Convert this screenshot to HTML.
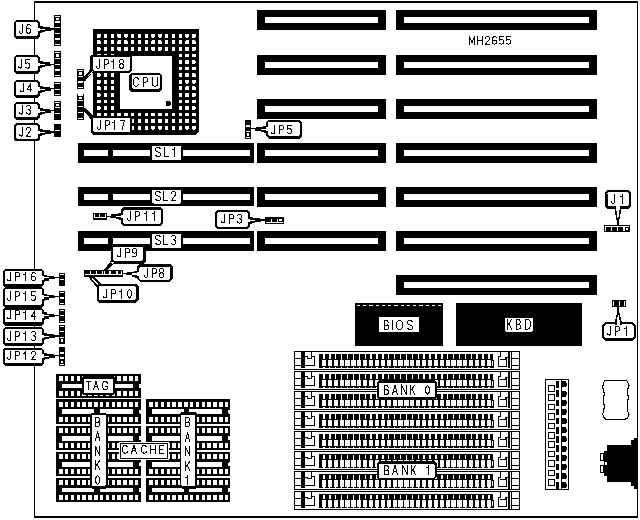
<!DOCTYPE html>
<html><head><meta charset="utf-8"><style>
html,body{margin:0;padding:0;background:#fff;width:640px;height:520px;overflow:hidden}
svg{display:block}
text{font-family:"Liberation Sans",sans-serif;fill:#000}
</style></head><body>
<svg width="640" height="520" viewBox="0 0 640 520" shape-rendering="crispEdges">
<rect width="640" height="520" fill="#fff"/>
<rect x="34" y="1" width="604" height="1.7" fill="#000"/>
<rect x="34" y="1" width="1.3" height="517" fill="#000"/>
<rect x="636.8" y="1" width="1.2" height="517" fill="#000"/>
<rect x="34" y="516" width="604" height="1.8" fill="#000"/>
<rect x="396" y="10" width="201" height="20" fill="#000"/>
<rect x="404" y="17" width="185" height="6" fill="#fff"/>
<rect x="257" y="10" width="129" height="20" fill="#000"/>
<rect x="265" y="17" width="113" height="6" fill="#fff"/>
<rect x="396" y="55" width="201" height="20" fill="#000"/>
<rect x="404" y="62" width="185" height="6" fill="#fff"/>
<rect x="257" y="55" width="129" height="20" fill="#000"/>
<rect x="265" y="62" width="113" height="6" fill="#fff"/>
<rect x="396" y="99" width="201" height="20" fill="#000"/>
<rect x="404" y="106" width="185" height="6" fill="#fff"/>
<rect x="257" y="99" width="129" height="20" fill="#000"/>
<rect x="265" y="106" width="113" height="6" fill="#fff"/>
<rect x="396" y="143" width="201" height="20" fill="#000"/>
<rect x="404" y="150" width="185" height="6" fill="#fff"/>
<rect x="257" y="143" width="129" height="20" fill="#000"/>
<rect x="265" y="150" width="113" height="6" fill="#fff"/>
<rect x="396" y="186.5" width="201" height="20" fill="#000"/>
<rect x="404" y="193.5" width="185" height="6" fill="#fff"/>
<rect x="257" y="186.5" width="129" height="20" fill="#000"/>
<rect x="265" y="193.5" width="113" height="6" fill="#fff"/>
<rect x="396" y="231" width="201" height="20" fill="#000"/>
<rect x="404" y="238" width="185" height="6" fill="#fff"/>
<rect x="257" y="231" width="129" height="20" fill="#000"/>
<rect x="265" y="238" width="113" height="6" fill="#fff"/>
<rect x="396" y="275" width="201" height="20" fill="#000"/>
<rect x="404" y="282" width="185" height="6" fill="#fff"/>
<rect x="78" y="143" width="176" height="19.5" fill="#000"/>
<rect x="84" y="150" width="24" height="6" fill="#fff"/>
<rect x="113" y="150" width="37" height="6" fill="#fff"/>
<rect x="183" y="150" width="67" height="6" fill="#fff"/>
<rect x="152" y="146" width="29" height="14" fill="#fff" rx="1.5"/>
<path d="M 160.30,148.85 Q 159.70,147.50 158.00,147.50 Q 155.50,147.50 155.50,149.84 Q 155.50,151.46 158.00,152.00 Q 160.50,152.54 160.50,154.34 Q 160.50,156.50 158.00,156.50 Q 156.10,156.50 155.50,155.06 M 164.50,147.50 V 156.50 H 168.50 M 174.90,156.50 V 147.50 Q 173.94,149.48 172.50,149.84" fill="none" stroke="#000" stroke-width="1" stroke-linejoin="miter" stroke-linecap="square"/>
<rect x="78" y="186.5" width="176" height="19.5" fill="#000"/>
<rect x="84" y="193.5" width="24" height="6" fill="#fff"/>
<rect x="113" y="193.5" width="37" height="6" fill="#fff"/>
<rect x="183" y="193.5" width="67" height="6" fill="#fff"/>
<rect x="152" y="189.5" width="29" height="14" fill="#fff" rx="1.5"/>
<path d="M 160.30,192.85 Q 159.70,191.50 158.00,191.50 Q 155.50,191.50 155.50,193.84 Q 155.50,195.46 158.00,196.00 Q 160.50,196.54 160.50,198.34 Q 160.50,200.50 158.00,200.50 Q 156.10,200.50 155.50,199.06 M 163.50,191.50 V 200.50 H 167.50 M 171.50,193.48 Q 171.82,191.50 173.50,191.50 Q 175.50,191.50 175.50,193.84 Q 175.50,195.28 173.90,196.90 L 171.50,200.50 H 175.50" fill="none" stroke="#000" stroke-width="1" stroke-linejoin="miter" stroke-linecap="square"/>
<rect x="78" y="231" width="176" height="19.5" fill="#000"/>
<rect x="84" y="238" width="24" height="6" fill="#fff"/>
<rect x="113" y="238" width="37" height="6" fill="#fff"/>
<rect x="183" y="238" width="67" height="6" fill="#fff"/>
<rect x="152" y="234" width="29" height="14" fill="#fff" rx="1.5"/>
<path d="M 160.30,236.85 Q 159.70,235.50 158.00,235.50 Q 155.50,235.50 155.50,237.84 Q 155.50,239.46 158.00,240.00 Q 160.50,240.54 160.50,242.34 Q 160.50,244.50 158.00,244.50 Q 156.10,244.50 155.50,243.06 M 163.50,235.50 V 244.50 H 167.50 M 171.50,236.58 Q 172.14,235.50 173.50,235.50 Q 175.50,235.50 175.50,237.75 Q 175.50,239.82 173.26,239.82 Q 175.50,239.82 175.50,242.16 Q 175.50,244.50 173.50,244.50 Q 172.14,244.50 171.50,243.24" fill="none" stroke="#000" stroke-width="1" stroke-linejoin="miter" stroke-linecap="square"/>
<polygon points="93,29 199,29 199,131.8 196,134.8 93,134.8" fill="#000"/>
<rect x="97.1" y="33.8" width="3.4" height="3.8" fill="#fff" rx="0.6"/>
<rect x="97.1" y="40.37" width="3.4" height="3.8" fill="#fff" rx="0.6"/>
<rect x="97.1" y="46.94" width="3.4" height="3.8" fill="#fff" rx="0.6"/>
<rect x="97.1" y="53.51" width="3.4" height="3.8" fill="#fff" rx="0.6"/>
<rect x="97.1" y="60.08" width="3.4" height="3.8" fill="#fff" rx="0.6"/>
<rect x="97.1" y="66.65" width="3.4" height="3.8" fill="#fff" rx="0.6"/>
<rect x="97.1" y="73.22" width="3.4" height="3.8" fill="#fff" rx="0.6"/>
<rect x="97.1" y="79.79" width="3.4" height="3.8" fill="#fff" rx="0.6"/>
<rect x="97.1" y="86.36" width="3.4" height="3.8" fill="#fff" rx="0.6"/>
<rect x="97.1" y="92.93" width="3.4" height="3.8" fill="#fff" rx="0.6"/>
<rect x="97.1" y="99.5" width="3.4" height="3.8" fill="#fff" rx="0.6"/>
<rect x="97.1" y="106.07" width="3.4" height="3.8" fill="#fff" rx="0.6"/>
<rect x="97.1" y="112.64" width="3.4" height="3.8" fill="#fff" rx="0.6"/>
<rect x="97.1" y="119.21" width="3.4" height="3.8" fill="#fff" rx="0.6"/>
<rect x="97.1" y="125.78" width="3.4" height="3.8" fill="#fff" rx="0.6"/>
<rect x="103.89" y="33.8" width="3.4" height="3.8" fill="#fff" rx="0.6"/>
<rect x="103.89" y="40.37" width="3.4" height="3.8" fill="#fff" rx="0.6"/>
<rect x="103.89" y="46.94" width="3.4" height="3.8" fill="#fff" rx="0.6"/>
<rect x="103.89" y="53.51" width="3.4" height="3.8" fill="#fff" rx="0.6"/>
<rect x="103.89" y="60.08" width="3.4" height="3.8" fill="#fff" rx="0.6"/>
<rect x="103.89" y="66.65" width="3.4" height="3.8" fill="#fff" rx="0.6"/>
<rect x="103.89" y="73.22" width="3.4" height="3.8" fill="#fff" rx="0.6"/>
<rect x="103.89" y="79.79" width="3.4" height="3.8" fill="#fff" rx="0.6"/>
<rect x="103.89" y="86.36" width="3.4" height="3.8" fill="#fff" rx="0.6"/>
<rect x="103.89" y="92.93" width="3.4" height="3.8" fill="#fff" rx="0.6"/>
<rect x="103.89" y="99.5" width="3.4" height="3.8" fill="#fff" rx="0.6"/>
<rect x="103.89" y="106.07" width="3.4" height="3.8" fill="#fff" rx="0.6"/>
<rect x="103.89" y="112.64" width="3.4" height="3.8" fill="#fff" rx="0.6"/>
<rect x="103.89" y="119.21" width="3.4" height="3.8" fill="#fff" rx="0.6"/>
<rect x="103.89" y="125.78" width="3.4" height="3.8" fill="#fff" rx="0.6"/>
<rect x="110.68" y="33.8" width="3.4" height="3.8" fill="#fff" rx="0.6"/>
<rect x="110.68" y="40.37" width="3.4" height="3.8" fill="#fff" rx="0.6"/>
<rect x="110.68" y="46.94" width="3.4" height="3.8" fill="#fff" rx="0.6"/>
<rect x="110.68" y="53.51" width="3.4" height="3.8" fill="#fff" rx="0.6"/>
<rect x="110.68" y="60.08" width="3.4" height="3.8" fill="#fff" rx="0.6"/>
<rect x="110.68" y="66.65" width="3.4" height="3.8" fill="#fff" rx="0.6"/>
<rect x="110.68" y="73.22" width="3.4" height="3.8" fill="#fff" rx="0.6"/>
<rect x="110.68" y="79.79" width="3.4" height="3.8" fill="#fff" rx="0.6"/>
<rect x="110.68" y="86.36" width="3.4" height="3.8" fill="#fff" rx="0.6"/>
<rect x="110.68" y="92.93" width="3.4" height="3.8" fill="#fff" rx="0.6"/>
<rect x="110.68" y="99.5" width="3.4" height="3.8" fill="#fff" rx="0.6"/>
<rect x="110.68" y="106.07" width="3.4" height="3.8" fill="#fff" rx="0.6"/>
<rect x="110.68" y="112.64" width="3.4" height="3.8" fill="#fff" rx="0.6"/>
<rect x="110.68" y="119.21" width="3.4" height="3.8" fill="#fff" rx="0.6"/>
<rect x="110.68" y="125.78" width="3.4" height="3.8" fill="#fff" rx="0.6"/>
<rect x="117.47" y="33.8" width="3.4" height="3.8" fill="#fff" rx="0.6"/>
<rect x="117.47" y="40.37" width="3.4" height="3.8" fill="#fff" rx="0.6"/>
<rect x="117.47" y="46.94" width="3.4" height="3.8" fill="#fff" rx="0.6"/>
<rect x="117.47" y="112.64" width="3.4" height="3.8" fill="#fff" rx="0.6"/>
<rect x="117.47" y="119.21" width="3.4" height="3.8" fill="#fff" rx="0.6"/>
<rect x="117.47" y="125.78" width="3.4" height="3.8" fill="#fff" rx="0.6"/>
<rect x="124.26" y="33.8" width="3.4" height="3.8" fill="#fff" rx="0.6"/>
<rect x="124.26" y="40.37" width="3.4" height="3.8" fill="#fff" rx="0.6"/>
<rect x="124.26" y="46.94" width="3.4" height="3.8" fill="#fff" rx="0.6"/>
<rect x="124.26" y="112.64" width="3.4" height="3.8" fill="#fff" rx="0.6"/>
<rect x="124.26" y="119.21" width="3.4" height="3.8" fill="#fff" rx="0.6"/>
<rect x="124.26" y="125.78" width="3.4" height="3.8" fill="#fff" rx="0.6"/>
<rect x="131.05" y="33.8" width="3.4" height="3.8" fill="#fff" rx="0.6"/>
<rect x="131.05" y="40.37" width="3.4" height="3.8" fill="#fff" rx="0.6"/>
<rect x="131.05" y="46.94" width="3.4" height="3.8" fill="#fff" rx="0.6"/>
<rect x="131.05" y="112.64" width="3.4" height="3.8" fill="#fff" rx="0.6"/>
<rect x="131.05" y="119.21" width="3.4" height="3.8" fill="#fff" rx="0.6"/>
<rect x="131.05" y="125.78" width="3.4" height="3.8" fill="#fff" rx="0.6"/>
<rect x="137.84" y="33.8" width="3.4" height="3.8" fill="#fff" rx="0.6"/>
<rect x="137.84" y="40.37" width="3.4" height="3.8" fill="#fff" rx="0.6"/>
<rect x="137.84" y="46.94" width="3.4" height="3.8" fill="#fff" rx="0.6"/>
<rect x="137.84" y="112.64" width="3.4" height="3.8" fill="#fff" rx="0.6"/>
<rect x="137.84" y="119.21" width="3.4" height="3.8" fill="#fff" rx="0.6"/>
<rect x="137.84" y="125.78" width="3.4" height="3.8" fill="#fff" rx="0.6"/>
<rect x="144.63" y="33.8" width="3.4" height="3.8" fill="#fff" rx="0.6"/>
<rect x="144.63" y="40.37" width="3.4" height="3.8" fill="#fff" rx="0.6"/>
<rect x="144.63" y="46.94" width="3.4" height="3.8" fill="#fff" rx="0.6"/>
<rect x="144.63" y="112.64" width="3.4" height="3.8" fill="#fff" rx="0.6"/>
<rect x="144.63" y="119.21" width="3.4" height="3.8" fill="#fff" rx="0.6"/>
<rect x="144.63" y="125.78" width="3.4" height="3.8" fill="#fff" rx="0.6"/>
<rect x="151.42" y="33.8" width="3.4" height="3.8" fill="#fff" rx="0.6"/>
<rect x="151.42" y="40.37" width="3.4" height="3.8" fill="#fff" rx="0.6"/>
<rect x="151.42" y="46.94" width="3.4" height="3.8" fill="#fff" rx="0.6"/>
<rect x="151.42" y="112.64" width="3.4" height="3.8" fill="#fff" rx="0.6"/>
<rect x="151.42" y="119.21" width="3.4" height="3.8" fill="#fff" rx="0.6"/>
<rect x="151.42" y="125.78" width="3.4" height="3.8" fill="#fff" rx="0.6"/>
<rect x="158.21" y="33.8" width="3.4" height="3.8" fill="#fff" rx="0.6"/>
<rect x="158.21" y="40.37" width="3.4" height="3.8" fill="#fff" rx="0.6"/>
<rect x="158.21" y="46.94" width="3.4" height="3.8" fill="#fff" rx="0.6"/>
<rect x="158.21" y="112.64" width="3.4" height="3.8" fill="#fff" rx="0.6"/>
<rect x="158.21" y="119.21" width="3.4" height="3.8" fill="#fff" rx="0.6"/>
<rect x="158.21" y="125.78" width="3.4" height="3.8" fill="#fff" rx="0.6"/>
<rect x="165" y="33.8" width="3.4" height="3.8" fill="#fff" rx="0.6"/>
<rect x="165" y="40.37" width="3.4" height="3.8" fill="#fff" rx="0.6"/>
<rect x="165" y="46.94" width="3.4" height="3.8" fill="#fff" rx="0.6"/>
<rect x="165" y="112.64" width="3.4" height="3.8" fill="#fff" rx="0.6"/>
<rect x="165" y="119.21" width="3.4" height="3.8" fill="#fff" rx="0.6"/>
<rect x="165" y="125.78" width="3.4" height="3.8" fill="#fff" rx="0.6"/>
<rect x="171.79" y="33.8" width="3.4" height="3.8" fill="#fff" rx="0.6"/>
<rect x="171.79" y="40.37" width="3.4" height="3.8" fill="#fff" rx="0.6"/>
<rect x="171.79" y="46.94" width="3.4" height="3.8" fill="#fff" rx="0.6"/>
<rect x="171.79" y="112.64" width="3.4" height="3.8" fill="#fff" rx="0.6"/>
<rect x="171.79" y="119.21" width="3.4" height="3.8" fill="#fff" rx="0.6"/>
<rect x="171.79" y="125.78" width="3.4" height="3.8" fill="#fff" rx="0.6"/>
<rect x="178.58" y="33.8" width="3.4" height="3.8" fill="#fff" rx="0.6"/>
<rect x="178.58" y="40.37" width="3.4" height="3.8" fill="#fff" rx="0.6"/>
<rect x="178.58" y="46.94" width="3.4" height="3.8" fill="#fff" rx="0.6"/>
<rect x="178.58" y="53.51" width="3.4" height="3.8" fill="#fff" rx="0.6"/>
<rect x="178.58" y="60.08" width="3.4" height="3.8" fill="#fff" rx="0.6"/>
<rect x="178.58" y="66.65" width="3.4" height="3.8" fill="#fff" rx="0.6"/>
<rect x="178.58" y="73.22" width="3.4" height="3.8" fill="#fff" rx="0.6"/>
<rect x="178.58" y="79.79" width="3.4" height="3.8" fill="#fff" rx="0.6"/>
<rect x="178.58" y="86.36" width="3.4" height="3.8" fill="#fff" rx="0.6"/>
<rect x="178.58" y="92.93" width="3.4" height="3.8" fill="#fff" rx="0.6"/>
<rect x="178.58" y="99.5" width="3.4" height="3.8" fill="#fff" rx="0.6"/>
<rect x="178.58" y="106.07" width="3.4" height="3.8" fill="#fff" rx="0.6"/>
<rect x="178.58" y="112.64" width="3.4" height="3.8" fill="#fff" rx="0.6"/>
<rect x="178.58" y="119.21" width="3.4" height="3.8" fill="#fff" rx="0.6"/>
<rect x="178.58" y="125.78" width="3.4" height="3.8" fill="#fff" rx="0.6"/>
<rect x="185.37" y="33.8" width="3.4" height="3.8" fill="#fff" rx="0.6"/>
<rect x="185.37" y="40.37" width="3.4" height="3.8" fill="#fff" rx="0.6"/>
<rect x="185.37" y="46.94" width="3.4" height="3.8" fill="#fff" rx="0.6"/>
<rect x="185.37" y="53.51" width="3.4" height="3.8" fill="#fff" rx="0.6"/>
<rect x="185.37" y="60.08" width="3.4" height="3.8" fill="#fff" rx="0.6"/>
<rect x="185.37" y="66.65" width="3.4" height="3.8" fill="#fff" rx="0.6"/>
<rect x="185.37" y="73.22" width="3.4" height="3.8" fill="#fff" rx="0.6"/>
<rect x="185.37" y="79.79" width="3.4" height="3.8" fill="#fff" rx="0.6"/>
<rect x="185.37" y="86.36" width="3.4" height="3.8" fill="#fff" rx="0.6"/>
<rect x="185.37" y="92.93" width="3.4" height="3.8" fill="#fff" rx="0.6"/>
<rect x="185.37" y="99.5" width="3.4" height="3.8" fill="#fff" rx="0.6"/>
<rect x="185.37" y="106.07" width="3.4" height="3.8" fill="#fff" rx="0.6"/>
<rect x="185.37" y="112.64" width="3.4" height="3.8" fill="#fff" rx="0.6"/>
<rect x="185.37" y="119.21" width="3.4" height="3.8" fill="#fff" rx="0.6"/>
<rect x="185.37" y="125.78" width="3.4" height="3.8" fill="#fff" rx="0.6"/>
<rect x="192.16" y="33.8" width="3.4" height="3.8" fill="#fff" rx="0.6"/>
<rect x="192.16" y="40.37" width="3.4" height="3.8" fill="#fff" rx="0.6"/>
<rect x="192.16" y="46.94" width="3.4" height="3.8" fill="#fff" rx="0.6"/>
<rect x="192.16" y="53.51" width="3.4" height="3.8" fill="#fff" rx="0.6"/>
<rect x="192.16" y="60.08" width="3.4" height="3.8" fill="#fff" rx="0.6"/>
<rect x="192.16" y="66.65" width="3.4" height="3.8" fill="#fff" rx="0.6"/>
<rect x="192.16" y="73.22" width="3.4" height="3.8" fill="#fff" rx="0.6"/>
<rect x="192.16" y="79.79" width="3.4" height="3.8" fill="#fff" rx="0.6"/>
<rect x="192.16" y="86.36" width="3.4" height="3.8" fill="#fff" rx="0.6"/>
<rect x="192.16" y="92.93" width="3.4" height="3.8" fill="#fff" rx="0.6"/>
<rect x="192.16" y="99.5" width="3.4" height="3.8" fill="#fff" rx="0.6"/>
<rect x="192.16" y="106.07" width="3.4" height="3.8" fill="#fff" rx="0.6"/>
<rect x="192.16" y="112.64" width="3.4" height="3.8" fill="#fff" rx="0.6"/>
<rect x="192.16" y="119.21" width="3.4" height="3.8" fill="#fff" rx="0.6"/>
<rect x="192.16" y="125.78" width="3.4" height="3.8" fill="#fff" rx="0.6"/>
<rect x="119.6" y="55.9" width="52.5" height="53" fill="#fff"/>
<polygon points="167.1,100.6 169.5,100.6 171.1,102.2 171.1,104.6 169.5,106.2 167.1,106.2 165.5,104.6 165.5,102.2" fill="#000"/>
<polygon points="131.5,72.8 159.6,72.8 162.1,75.3 162.1,89.4 159.6,91.9 131.5,91.9 129,89.4 129,75.3" fill="#000"/>
<polygon points="133,75 159,75 160.2,76.2 160.2,87.8 159,89 133,89 131.8,87.8 131.8,76.2" fill="#fff"/>
<path d="M 138.50,79.07 Q 137.90,77.50 136.10,77.50 Q 133.50,77.50 133.50,81.85 Q 133.50,86.20 136.10,86.20 Q 137.90,86.20 138.50,84.63 M 143.50,86.20 V 77.50 H 145.90 Q 147.50,77.50 147.50,79.76 Q 147.50,82.02 145.90,82.02 H 143.50 M 152.50,77.50 V 83.94 Q 152.50,86.20 155.00,86.20 Q 157.50,86.20 157.50,83.94 V 77.50" fill="none" stroke="#000" stroke-width="1" stroke-linejoin="miter" stroke-linecap="square"/>
<polygon points="92.3,54.5 130.1,54.5 132.1,56.5 132.1,70.7 130.1,72.7 92.3,72.7 90.3,70.7 90.3,56.5" fill="#000"/>
<polygon points="93.9,56.8 129.1,56.8 129.8,57.5 129.8,70 129.1,70.7 93.9,70.7 93.2,70 93.2,57.5" fill="#fff"/>
<path d="M 99.70,59.50 V 66.10 Q 99.70,68.30 98.10,68.30 Q 96.50,68.30 96.50,66.54 M 104.50,68.30 V 59.50 H 106.90 Q 108.50,59.50 108.50,61.79 Q 108.50,64.08 106.90,64.08 H 104.50 M 113.90,68.30 V 59.50 Q 112.94,61.44 111.50,61.79 M 121.50,63.72 Q 119.66,63.72 119.66,61.61 Q 119.66,59.50 121.50,59.50 Q 123.34,59.50 123.34,61.61 Q 123.34,63.72 121.50,63.72 Q 119.50,63.72 119.50,66.01 Q 119.50,68.30 121.50,68.30 Q 123.50,68.30 123.50,66.01 Q 123.50,63.72 121.50,63.72" fill="none" stroke="#000" stroke-width="1" stroke-linejoin="miter" stroke-linecap="square"/>
<polygon points="93.1,116.2 129.7,116.2 131.7,118.2 131.7,132.65 129.7,134.65 93.1,134.65 91.1,132.65 91.1,118.2" fill="#000"/>
<polygon points="93.9,118.1 129.4,118.1 130.1,118.8 130.1,131.2 129.4,131.9 93.9,131.9 93.2,131.2 93.2,118.8" fill="#fff"/>
<path d="M 100.70,120.50 V 127.10 Q 100.70,129.30 99.10,129.30 Q 97.50,129.30 97.50,127.54 M 105.50,129.30 V 120.50 H 107.90 Q 109.50,120.50 109.50,122.79 Q 109.50,125.08 107.90,125.08 H 105.50 M 114.90,129.30 V 120.50 Q 113.94,122.44 112.50,122.79 M 120.50,120.50 H 124.50 L 122.10,129.30" fill="none" stroke="#000" stroke-width="1" stroke-linejoin="miter" stroke-linecap="square"/>
<rect x="34" y="20" width="1.3" height="18.9" fill="#fff"/>
<polygon points="16.35,20 37.8,20 40,22.2 40,36.7 37.8,38.9 16.35,38.9 14.15,36.7 14.15,22.2" fill="#000"/>
<polygon points="16.85,21.9 36.7,21.9 37.6,22.8 37.6,35.4 36.7,36.3 16.85,36.3 15.95,35.4 15.95,22.8" fill="#fff"/>
<path d="M 22.70,24.50 V 31.10 Q 22.70,33.30 21.10,33.30 Q 19.50,33.30 19.50,31.54 M 30.18,25.38 Q 29.70,24.50 28.58,24.50 Q 26.50,24.50 26.50,28.90 V 30.66 Q 26.50,33.30 28.50,33.30 Q 30.50,33.30 30.50,30.84 Q 30.50,28.55 28.50,28.55 Q 26.50,28.55 26.50,30.66" fill="none" stroke="#000" stroke-width="1" stroke-linejoin="miter" stroke-linecap="square"/>
<polygon points="37.4,27.6 40,27.6 40,25.9 43,25.9 43,27 50,27 50,28.2 54.1,28.2 54.1,29.6 50.9,29.6 50.9,30.7 45.1,30.7 45.1,32 41.8,32 41.8,33 40,33 40,31 37.4,31" fill="#000"/>
<polygon points="37.4,27.6 40,27.6 40,28.7 45.1,28.7 45.1,29.8 40,29.8 40,31 37.4,31" fill="#fff"/>
<rect x="54.1" y="14.9" width="7" height="31.2" fill="#000"/>
<rect x="55.2" y="15.95" width="4.8" height="1.3" fill="#fff"/>
<rect x="55.2" y="21.35" width="4.8" height="1.3" fill="#fff"/>
<rect x="55.2" y="26.75" width="4.8" height="1.3" fill="#fff"/>
<rect x="55.2" y="32.75" width="4.8" height="1.3" fill="#fff"/>
<rect x="55.2" y="38.25" width="4.8" height="1.3" fill="#fff"/>
<rect x="55.2" y="43.75" width="4.8" height="1.3" fill="#fff"/>
<rect x="56" y="18.2" width="3" height="1.6" fill="#fff"/>
<rect x="34" y="55.2" width="1.3" height="18.5" fill="#fff"/>
<polygon points="16.35,55.2 37.8,55.2 40,57.4 40,71.5 37.8,73.7 16.35,73.7 14.15,71.5 14.15,57.4" fill="#000"/>
<polygon points="16.85,57.1 36.7,57.1 37.6,58 37.6,70.2 36.7,71.1 16.85,71.1 15.95,70.2 15.95,58" fill="#fff"/>
<path d="M 21.70,59.50 V 66.02 Q 21.70,68.20 20.10,68.20 Q 18.50,68.20 18.50,66.46 M 29.34,59.50 H 25.98 L 25.66,63.50 Q 26.30,62.98 27.50,62.98 Q 29.50,62.98 29.50,65.59 Q 29.50,68.20 27.50,68.20 Q 26.14,68.20 25.50,67.16" fill="none" stroke="#000" stroke-width="1" stroke-linejoin="miter" stroke-linecap="square"/>
<polygon points="37.4,62.9 40,62.9 40,61.2 43,61.2 43,62.3 50,62.3 50,63.5 54.1,63.5 54.1,64.9 50.9,64.9 50.9,66 45.1,66 45.1,67.3 41.8,67.3 41.8,68.3 40,68.3 40,66.3 37.4,66.3" fill="#000"/>
<polygon points="37.4,62.9 40,62.9 40,64 45.1,64 45.1,65.1 40,65.1 40,66.3 37.4,66.3" fill="#fff"/>
<rect x="54.1" y="50.9" width="7" height="25.75" fill="#000"/>
<rect x="55.2" y="51.75" width="4.8" height="1.3" fill="#fff"/>
<rect x="55.2" y="57.65" width="4.8" height="1.3" fill="#fff"/>
<rect x="55.2" y="63.75" width="4.8" height="1.3" fill="#fff"/>
<rect x="55.2" y="69.35" width="4.8" height="1.3" fill="#fff"/>
<rect x="55.2" y="74.85" width="4.8" height="1.3" fill="#fff"/>
<rect x="56" y="54.25" width="3" height="2.85" fill="#fff"/>
<rect x="34" y="80.2" width="1.3" height="17.5" fill="#fff"/>
<polygon points="16.35,80.2 37.8,80.2 40,82.4 40,95.5 37.8,97.7 16.35,97.7 14.15,95.5 14.15,82.4" fill="#000"/>
<polygon points="16.85,82.1 36.7,82.1 37.6,83 37.6,94.2 36.7,95.1 16.85,95.1 15.95,94.2 15.95,83" fill="#fff"/>
<path d="M 23.70,83.50 V 89.65 Q 23.70,91.70 22.10,91.70 Q 20.50,91.70 20.50,90.06 M 30.70,91.70 V 83.50 L 27.50,89.24 H 31.90" fill="none" stroke="#000" stroke-width="1" stroke-linejoin="miter" stroke-linecap="square"/>
<polygon points="37.4,87.4 40,87.4 40,85.7 43,85.7 43,86.8 50,86.8 50,88 54.1,88 54.1,89.4 50.9,89.4 50.9,90.5 45.1,90.5 45.1,91.8 41.8,91.8 41.8,92.8 40,92.8 40,90.8 37.4,90.8" fill="#000"/>
<polygon points="37.4,87.4 40,87.4 40,88.5 45.1,88.5 45.1,89.6 40,89.6 40,90.8 37.4,90.8" fill="#fff"/>
<rect x="54.1" y="82.4" width="7" height="13.2" fill="#000"/>
<rect x="55.2" y="82.95" width="4.8" height="1.3" fill="#fff"/>
<rect x="55.2" y="88.75" width="4.8" height="1.3" fill="#fff"/>
<rect x="55.2" y="93.85" width="4.8" height="1.3" fill="#fff"/>
<rect x="34" y="102.15" width="1.3" height="17.55" fill="#fff"/>
<polygon points="16.35,102.15 37.8,102.15 40,104.35 40,117.5 37.8,119.7 16.35,119.7 14.15,117.5 14.15,104.35" fill="#000"/>
<polygon points="16.85,104.05 36.7,104.05 37.6,104.95 37.6,116.2 36.7,117.1 16.85,117.1 15.95,116.2 15.95,104.95" fill="#fff"/>
<path d="M 22.70,105.50 V 112.02 Q 22.70,114.20 21.10,114.20 Q 19.50,114.20 19.50,112.46 M 26.50,106.54 Q 27.14,105.50 28.50,105.50 Q 30.50,105.50 30.50,107.67 Q 30.50,109.68 28.26,109.68 Q 30.50,109.68 30.50,111.94 Q 30.50,114.20 28.50,114.20 Q 27.14,114.20 26.50,112.98" fill="none" stroke="#000" stroke-width="1" stroke-linejoin="miter" stroke-linecap="square"/>
<polygon points="37.4,109.4 40,109.4 40,107.7 43,107.7 43,108.8 50,108.8 50,110 54.1,110 54.1,111.4 50.9,111.4 50.9,112.5 45.1,112.5 45.1,113.8 41.8,113.8 41.8,114.8 40,114.8 40,112.8 37.4,112.8" fill="#000"/>
<polygon points="37.4,109.4 40,109.4 40,110.5 45.1,110.5 45.1,111.6 40,111.6 40,112.8 37.4,112.8" fill="#fff"/>
<rect x="54.1" y="101.1" width="7" height="18.7" fill="#000"/>
<rect x="55.2" y="101.75" width="4.8" height="1.3" fill="#fff"/>
<rect x="55.2" y="106.85" width="4.8" height="1.3" fill="#fff"/>
<rect x="55.2" y="112.75" width="4.8" height="1.3" fill="#fff"/>
<rect x="56" y="103.8" width="3" height="2.2" fill="#fff"/>
<rect x="34" y="123.4" width="1.3" height="18" fill="#fff"/>
<polygon points="16.35,123.4 37.8,123.4 40,125.6 40,139.2 37.8,141.4 16.35,141.4 14.15,139.2 14.15,125.6" fill="#000"/>
<polygon points="16.85,125.3 36.7,125.3 37.6,126.2 37.6,137.9 36.7,138.8 16.85,138.8 15.95,137.9 15.95,126.2" fill="#fff"/>
<path d="M 22.70,127.50 V 134.03 Q 22.70,136.20 21.10,136.20 Q 19.50,136.20 19.50,134.46 M 26.50,129.41 Q 26.82,127.50 28.50,127.50 Q 30.50,127.50 30.50,129.76 Q 30.50,131.15 28.90,132.72 L 26.50,136.20 H 30.50" fill="none" stroke="#000" stroke-width="1" stroke-linejoin="miter" stroke-linecap="square"/>
<polygon points="37.4,130.7 40,130.7 40,129 43,129 43,130.1 50,130.1 50,131.3 54.1,131.3 54.1,132.7 50.9,132.7 50.9,133.8 45.1,133.8 45.1,135.1 41.8,135.1 41.8,136.1 40,136.1 40,134.1 37.4,134.1" fill="#000"/>
<polygon points="37.4,130.7 40,130.7 40,131.8 45.1,131.8 45.1,132.9 40,132.9 40,134.1 37.4,134.1" fill="#fff"/>
<rect x="54.1" y="124" width="7" height="12.8" fill="#000"/>
<rect x="55.2" y="129.95" width="4.8" height="1.3" fill="#fff"/>
<rect x="77" y="69" width="6.9" height="19.8" fill="#000"/>
<rect x="78.1" y="69.65" width="4.7" height="1.3" fill="#fff"/>
<rect x="78.1" y="75.85" width="4.7" height="1.3" fill="#fff"/>
<rect x="78.1" y="81.25" width="4.7" height="1.3" fill="#fff"/>
<rect x="78.1" y="86.85" width="4.7" height="1.3" fill="#fff"/>
<rect x="78.9" y="72.2" width="2.9" height="2.4" fill="#fff"/>
<polygon points="83.9,77 90,69.9 93.2,69.9 93.2,71.4 84.9,81.3 83.9,81.3" fill="#000"/>
<line x1="88.3" y1="75.6" x2="92.9" y2="71.2" stroke="#fff" stroke-width="0.9"/>
<rect x="77" y="94.2" width="6.9" height="25.6" fill="#000"/>
<rect x="78.1" y="94.35" width="4.7" height="1.3" fill="#fff"/>
<rect x="78.1" y="100.05" width="4.7" height="1.3" fill="#fff"/>
<rect x="78.1" y="105.75" width="4.7" height="1.3" fill="#fff"/>
<rect x="78.1" y="111.65" width="4.7" height="1.3" fill="#fff"/>
<rect x="78.1" y="117.55" width="4.7" height="1.3" fill="#fff"/>
<rect x="78.9" y="97.2" width="2.9" height="1.6" fill="#fff"/>
<polygon points="83.9,107.8 85.5,107.8 93.1,115.2 93.1,117 92,119.5 91,119.5 83.9,110.8" fill="#000"/>
<rect x="245" y="120" width="5.75" height="18.75" fill="#000"/>
<rect x="246.1" y="125.25" width="3.55" height="1.3" fill="#fff"/>
<rect x="246.1" y="130.75" width="3.55" height="1.3" fill="#fff"/>
<rect x="246.1" y="136.85" width="3.55" height="1.3" fill="#fff"/>
<rect x="246.9" y="133" width="1.75" height="2.75" fill="#fff"/>
<polygon points="268.7,120 299.5,120 302,122.5 302,136.2 299.5,138.7 268.7,138.7 266.2,136.2 266.2,122.5" fill="#000"/>
<polygon points="269.2,121.8 298.4,121.8 299.6,123 299.6,134.9 298.4,136.1 269.2,136.1 268,134.9 268,123" fill="#fff"/>
<path d="M 274.70,125.50 V 131.65 Q 274.70,133.70 273.10,133.70 Q 271.50,133.70 271.50,132.06 M 279.50,133.70 V 125.50 H 281.90 Q 283.50,125.50 283.50,127.63 Q 283.50,129.76 281.90,129.76 H 279.50 M 291.34,125.50 H 287.98 L 287.66,129.27 Q 288.30,128.78 289.50,128.78 Q 291.50,128.78 291.50,131.24 Q 291.50,133.70 289.50,133.70 Q 288.14,133.70 287.50,132.72" fill="none" stroke="#000" stroke-width="1" stroke-linejoin="miter" stroke-linecap="square"/>
<polygon points="268.2,127.45 266.2,127.45 266.2,125.75 263.2,125.75 263.2,126.85 256.2,126.85 256.2,128.05 250.75,128.05 250.75,129.45 255.3,129.45 255.3,130.55 261.1,130.55 261.1,131.85 264.4,131.85 264.4,132.85 266.2,132.85 266.2,130.85 268.2,130.85" fill="#000"/>
<polygon points="268.2,127.45 266.2,127.45 266.2,128.55 261.1,128.55 261.1,129.65 266.2,129.65 266.2,130.85 268.2,130.85" fill="#fff"/>
<path d="M 469.50,44.10 V 36.50 L 472.00,42.58 L 474.50,36.50 V 44.10 M 477.50,36.50 V 44.10 M 482.50,36.50 V 44.10 M 477.50,40.30 H 482.50 M 485.50,38.17 Q 485.82,36.50 487.50,36.50 Q 489.50,36.50 489.50,38.48 Q 489.50,39.69 487.90,41.06 L 485.50,44.10 H 489.50 M 496.18,37.26 Q 495.70,36.50 494.58,36.50 Q 492.50,36.50 492.50,40.30 V 41.82 Q 492.50,44.10 494.50,44.10 Q 496.50,44.10 496.50,41.97 Q 496.50,40.00 494.50,40.00 Q 492.50,40.00 492.50,41.82 M 503.34,36.50 H 499.98 L 499.66,40.00 Q 500.30,39.54 501.50,39.54 Q 503.50,39.54 503.50,41.82 Q 503.50,44.10 501.50,44.10 Q 500.14,44.10 499.50,43.19 M 510.34,36.50 H 506.98 L 506.66,40.00 Q 507.30,39.54 508.50,39.54 Q 510.50,39.54 510.50,41.82 Q 510.50,44.10 508.50,44.10 Q 507.14,44.10 506.50,43.19" fill="none" stroke="#000" stroke-width="1" stroke-linejoin="miter" stroke-linecap="square"/>
<rect x="92.8" y="213" width="14.1" height="7" fill="#000"/>
<rect x="94" y="214" width="11.8" height="4.4" fill="#fff"/>
<rect x="95" y="213" width="4.4" height="4.4" fill="#000"/>
<rect x="100.3" y="213" width="4.4" height="4.4" fill="#000"/>
<polygon points="123.5,207 160.5,207 163,209.5 163,223.25 160.5,225.75 123.5,225.75 121,223.25 121,209.5" fill="#000"/>
<polygon points="124.45,209.6 159.9,209.6 161.1,210.8 161.1,222.45 159.9,223.65 124.45,223.65 123.25,222.45 123.25,210.8" fill="#fff"/>
<path d="M 130.70,211.50 V 218.10 Q 130.70,220.30 129.10,220.30 Q 127.50,220.30 127.50,218.54 M 135.50,220.30 V 211.50 H 137.90 Q 139.50,211.50 139.50,213.79 Q 139.50,216.08 137.90,216.08 H 135.50 M 146.90,220.30 V 211.50 Q 145.94,213.44 144.50,213.79 M 154.90,220.30 V 211.50 Q 153.94,213.44 152.50,213.79" fill="none" stroke="#000" stroke-width="1" stroke-linejoin="miter" stroke-linecap="square"/>
<polygon points="123.45,215 121,215 121,213.3 118,213.3 118,214.4 111,214.4 111,215.6 106.9,215.6 106.9,217 110.1,217 110.1,218.1 115.9,218.1 115.9,219.4 119.2,219.4 119.2,220.4 121,220.4 121,218.4 123.45,218.4" fill="#000"/>
<polygon points="123.45,215 121,215 121,216.1 115.9,216.1 115.9,217.2 121,217.2 121,218.4 123.45,218.4" fill="#fff"/>
<polygon points="217.6,209.8 247.6,209.8 250.1,212.3 250.1,226.5 247.6,229 217.6,229 215.1,226.5 215.1,212.3" fill="#000"/>
<polygon points="218.2,212.3 246.9,212.3 248.1,213.5 248.1,225.8 246.9,227 218.2,227 217,225.8 217,213.5" fill="#fff"/>
<path d="M 224.70,214.50 V 220.95 Q 224.70,223.10 223.10,223.10 Q 221.50,223.10 221.50,221.38 M 229.50,223.10 V 214.50 H 231.90 Q 233.50,214.50 233.50,216.74 Q 233.50,218.97 231.90,218.97 H 229.50 M 237.50,215.53 Q 238.14,214.50 239.50,214.50 Q 241.50,214.50 241.50,216.65 Q 241.50,218.63 239.26,218.63 Q 241.50,218.63 241.50,220.86 Q 241.50,223.10 239.50,223.10 Q 238.14,223.10 237.50,221.90" fill="none" stroke="#000" stroke-width="1" stroke-linejoin="miter" stroke-linecap="square"/>
<polygon points="247.9,218.5 250.1,218.5 250.1,216.8 253.1,216.8 253.1,217.9 260.1,217.9 260.1,219.1 265,219.1 265,220.5 261,220.5 261,221.6 255.2,221.6 255.2,222.9 251.9,222.9 251.9,223.9 250.1,223.9 250.1,221.9 247.9,221.9" fill="#000"/>
<polygon points="247.9,218.5 250.1,218.5 250.1,219.6 255.2,219.6 255.2,220.7 250.1,220.7 250.1,221.9 247.9,221.9" fill="#fff"/>
<rect x="265" y="217" width="19" height="6.9" fill="#000"/>
<rect x="266" y="218.6" width="17" height="4.3" fill="#fff"/>
<rect x="266" y="218" width="5.17" height="3.9" fill="#000"/>
<rect x="272.17" y="218" width="4.67" height="3.9" fill="#000"/>
<rect x="277.83" y="218" width="5.17" height="3.9" fill="#000"/>
<rect x="279.13" y="219" width="2.57" height="2.2" fill="#fff"/>
<polygon points="607.5,189.8 628.5,189.8 631,192.3 631,206.3 628.5,208.8 607.5,208.8 605,206.3 605,192.3" fill="#000"/>
<polygon points="608.7,192.3 627.6,192.3 628.8,193.5 628.8,204.8 627.6,206 608.7,206 607.5,204.8 607.5,193.5" fill="#fff"/>
<path d="M 614.70,194.50 V 201.10 Q 614.70,203.30 613.10,203.30 Q 611.50,203.30 611.50,201.54 M 622.90,203.30 V 194.50 Q 621.94,196.44 620.50,196.79" fill="none" stroke="#000" stroke-width="1" stroke-linejoin="miter" stroke-linecap="square"/>
<polygon points="614.6,205.7 614.6,209.8 616.9,221.8 617.1,222.8 617.1,225 618.7,225 618.7,222.8 619,221.8 621.2,209.8 621.2,205.7" fill="#000"/>
<polygon points="616.3,205.7 619.6,205.7 619.6,209.8 618.3,218.8 617.6,218.8 616.3,209.8" fill="#fff"/>
<rect x="604" y="225" width="26" height="7" fill="#000"/>
<rect x="605" y="226" width="24" height="5" fill="#fff"/>
<rect x="606" y="226.5" width="4.5" height="4" fill="#000"/>
<rect x="612" y="226.5" width="4.5" height="4" fill="#000"/>
<rect x="618" y="226.5" width="4.5" height="4" fill="#000"/>
<rect x="624.5" y="226.5" width="4" height="4" fill="#000"/>
<rect x="625.5" y="227.5" width="2" height="2" fill="#fff"/>
<rect x="84" y="270" width="39" height="6.8" fill="#000"/>
<rect x="85" y="274.3" width="37" height="1" fill="#fff"/>
<rect x="90" y="271.2" width="1" height="4.1" fill="#fff"/>
<rect x="96.2" y="271.2" width="1" height="4.1" fill="#fff"/>
<rect x="102.3" y="271.2" width="1" height="4.1" fill="#fff"/>
<rect x="103.8" y="271.2" width="1" height="4.1" fill="#fff"/>
<rect x="108.9" y="271.2" width="1" height="4.1" fill="#fff"/>
<rect x="110.3" y="271.2" width="1" height="4.1" fill="#fff"/>
<rect x="115.5" y="271.2" width="1" height="4.1" fill="#fff"/>
<rect x="116.9" y="271.2" width="1" height="4.1" fill="#fff"/>
<rect x="121.3" y="271.2" width="1" height="4.1" fill="#fff"/>
<polygon points="112.7,245 143.7,245 145.7,247 145.7,261.7 143.7,263.7 112.7,263.7 110.7,261.7 110.7,247" fill="#000"/>
<polygon points="113.5,247.2 142.3,247.2 143,247.9 143,259.8 142.3,260.5 113.5,260.5 112.8,259.8 112.8,247.9" fill="#fff"/>
<path d="M 120.70,248.50 V 254.88 Q 120.70,257.00 119.10,257.00 Q 117.50,257.00 117.50,255.30 M 125.50,257.00 V 248.50 H 127.90 Q 129.50,248.50 129.50,250.71 Q 129.50,252.92 127.90,252.92 H 125.50 M 132.82,256.15 Q 133.30,257.00 134.42,257.00 Q 136.50,257.00 136.50,252.75 V 251.05 Q 136.50,248.50 134.50,248.50 Q 132.50,248.50 132.50,250.88 Q 132.50,253.09 134.50,253.09 Q 136.50,253.09 136.50,251.05" fill="none" stroke="#000" stroke-width="1" stroke-linejoin="miter" stroke-linecap="square"/>
<polygon points="139.7,264.2 170.3,264.2 172.8,266.7 172.8,279.2 170.3,281.7 139.7,281.7 137.2,279.2 137.2,266.7" fill="#000"/>
<polygon points="140.55,266.85 169,266.85 170.2,268.05 170.2,278.4 169,279.6 140.55,279.6 139.35,278.4 139.35,268.05" fill="#fff"/>
<path d="M 147.70,268.50 V 275.25 Q 147.70,277.50 146.10,277.50 Q 144.50,277.50 144.50,275.70 M 152.50,277.50 V 268.50 H 154.90 Q 156.50,268.50 156.50,270.84 Q 156.50,273.18 154.90,273.18 H 152.50 M 161.50,272.82 Q 159.66,272.82 159.66,270.66 Q 159.66,268.50 161.50,268.50 Q 163.34,268.50 163.34,270.66 Q 163.34,272.82 161.50,272.82 Q 159.50,272.82 159.50,275.16 Q 159.50,277.50 161.50,277.50 Q 163.50,277.50 163.50,275.16 Q 163.50,272.82 161.50,272.82" fill="none" stroke="#000" stroke-width="1" stroke-linejoin="miter" stroke-linecap="square"/>
<polygon points="99,284 136,284 138.5,286.5 138.5,300 136,302.5 99,302.5 96.5,300 96.5,286.5" fill="#000"/>
<polygon points="99.7,286 134.8,286 136,287.2 136,298.8 134.8,300 99.7,300 98.5,298.8 98.5,287.2" fill="#fff"/>
<path d="M 106.70,289.50 V 295.88 Q 106.70,298.00 105.10,298.00 Q 103.50,298.00 103.50,296.30 M 111.50,298.00 V 289.50 H 113.90 Q 115.50,289.50 115.50,291.71 Q 115.50,293.92 113.90,293.92 H 111.50 M 121.90,298.00 V 289.50 Q 120.94,291.37 119.50,291.71 M 129.50,289.50 L 131.34,291.71 V 295.79 L 129.50,298.00 L 127.66,295.79 V 291.71 Z" fill="none" stroke="#000" stroke-width="1" stroke-linejoin="miter" stroke-linecap="square"/>
<polygon points="104,270.2 107.8,270.2 114,263.8 114,261 112.8,260.7 111,260.7 110.5,261.3" fill="#000"/>
<polygon points="111.4,262.4 113.8,261.8 113.8,262.6 112.4,263.9" fill="#fff"/>
<polygon points="88,276.6 93.6,276.6 100.6,283.6 100.6,285.2 97.8,287.2 96.4,286.8" fill="#000"/>
<polygon points="90.8,277.6 92.6,277.6 98.8,284 97.6,285.4" fill="#fff"/>
<polygon points="139.55,272.3 137.2,272.3 137.2,270.6 134.2,270.6 134.2,271.7 127.2,271.7 127.2,272.9 122.8,272.9 122.8,274.3 126.3,274.3 126.3,275.4 132.1,275.4 132.1,276.7 135.4,276.7 135.4,277.7 137.2,277.7 137.2,275.7 139.55,275.7" fill="#000"/>
<polygon points="139.55,272.3 137.2,272.3 137.2,273.4 132.1,273.4 132.1,274.5 137.2,274.5 137.2,275.7 139.55,275.7" fill="#fff"/>
<polygon points="5.3,269.2 41.6,269.2 43.6,271.2 43.6,285.4 41.6,287.4 5.3,287.4 3.3,285.4 3.3,271.2" fill="#000"/>
<polygon points="5.5,271.1 41.4,271.1 42.1,271.8 42.1,283.6 41.4,284.3 5.5,284.3 4.8,283.6 4.8,271.8" fill="#fff"/>
<path d="M 10.70,272.50 V 278.80 Q 10.70,280.90 9.10,280.90 Q 7.50,280.90 7.50,279.22 M 15.50,280.90 V 272.50 H 17.90 Q 19.50,272.50 19.50,274.68 Q 19.50,276.87 17.90,276.87 H 15.50 M 25.90,280.90 V 272.50 Q 24.94,274.35 23.50,274.68 M 35.18,273.34 Q 34.70,272.50 33.58,272.50 Q 31.50,272.50 31.50,276.70 V 278.38 Q 31.50,280.90 33.50,280.90 Q 35.50,280.90 35.50,278.55 Q 35.50,276.36 33.50,276.36 Q 31.50,276.36 31.50,278.38" fill="none" stroke="#000" stroke-width="1" stroke-linejoin="miter" stroke-linecap="square"/>
<polygon points="41.9,276.2 43.6,276.2 43.6,274.5 46.6,274.5 46.6,275.6 53.6,275.6 53.6,276.8 58.9,276.8 58.9,278.2 54.5,278.2 54.5,279.3 48.7,279.3 48.7,280.6 45.4,280.6 45.4,281.6 43.6,281.6 43.6,279.6 41.9,279.6" fill="#000"/>
<polygon points="41.9,276.2 43.6,276.2 43.6,277.3 48.7,277.3 48.7,278.4 43.6,278.4 43.6,279.6 41.9,279.6" fill="#fff"/>
<rect x="58.9" y="273" width="6.2" height="12.9" fill="#000"/>
<rect x="60" y="273.95" width="4" height="1.3" fill="#fff"/>
<rect x="60" y="278.75" width="4" height="1.3" fill="#fff"/>
<polygon points="5.3,287.4 41.6,287.4 43.6,289.4 43.6,305.7 41.6,307.7 5.3,307.7 3.3,305.7 3.3,289.4" fill="#000"/>
<polygon points="5.5,289.3 41.4,289.3 42.1,290 42.1,303.9 41.4,304.6 5.5,304.6 4.8,303.9 4.8,290" fill="#fff"/>
<path d="M 10.70,291.50 V 298.10 Q 10.70,300.30 9.10,300.30 Q 7.50,300.30 7.50,298.54 M 15.50,300.30 V 291.50 H 17.90 Q 19.50,291.50 19.50,293.79 Q 19.50,296.08 17.90,296.08 H 15.50 M 25.90,300.30 V 291.50 Q 24.94,293.44 23.50,293.79 M 35.34,291.50 H 31.98 L 31.66,295.55 Q 32.30,295.02 33.50,295.02 Q 35.50,295.02 35.50,297.66 Q 35.50,300.30 33.50,300.30 Q 32.14,300.30 31.50,299.24" fill="none" stroke="#000" stroke-width="1" stroke-linejoin="miter" stroke-linecap="square"/>
<polygon points="41.9,295.2 43.6,295.2 43.6,293.5 46.6,293.5 46.6,294.6 53.6,294.6 53.6,295.8 58.9,295.8 58.9,297.2 54.5,297.2 54.5,298.3 48.7,298.3 48.7,299.6 45.4,299.6 45.4,300.6 43.6,300.6 43.6,298.6 41.9,298.6" fill="#000"/>
<polygon points="41.9,295.2 43.6,295.2 43.6,296.3 48.7,296.3 48.7,297.4 43.6,297.4 43.6,298.6 41.9,298.6" fill="#fff"/>
<rect x="58.9" y="291" width="6.2" height="13.5" fill="#000"/>
<rect x="60" y="291.75" width="4" height="1.3" fill="#fff"/>
<rect x="60" y="297.25" width="4" height="1.3" fill="#fff"/>
<rect x="60" y="302.85" width="4" height="1.3" fill="#fff"/>
<polygon points="5.3,307.7 41.6,307.7 43.6,309.7 43.6,323.5 41.6,325.5 5.3,325.5 3.3,323.5 3.3,309.7" fill="#000"/>
<polygon points="5.5,309.6 41.4,309.6 42.1,310.3 42.1,321.7 41.4,322.4 5.5,322.4 4.8,321.7 4.8,310.3" fill="#fff"/>
<path d="M 10.70,310.50 V 316.91 Q 10.70,319.05 9.10,319.05 Q 7.50,319.05 7.50,317.34 M 15.50,319.05 V 310.50 H 17.90 Q 19.50,310.50 19.50,312.72 Q 19.50,314.95 17.90,314.95 H 15.50 M 25.90,319.05 V 310.50 Q 24.94,312.38 23.50,312.72 M 34.70,319.05 V 310.50 L 31.50,316.49 H 35.90" fill="none" stroke="#000" stroke-width="1" stroke-linejoin="miter" stroke-linecap="square"/>
<polygon points="41.9,314.12 43.6,314.12 43.6,312.42 46.6,312.42 46.6,313.52 53.6,313.52 53.6,314.72 58.9,314.72 58.9,316.12 54.5,316.12 54.5,317.22 48.7,317.22 48.7,318.52 45.4,318.52 45.4,319.52 43.6,319.52 43.6,317.52 41.9,317.52" fill="#000"/>
<polygon points="41.9,314.12 43.6,314.12 43.6,315.22 48.7,315.22 48.7,316.32 43.6,316.32 43.6,317.52 41.9,317.52" fill="#fff"/>
<rect x="58.9" y="309" width="6.2" height="13.7" fill="#000"/>
<rect x="60" y="309.85" width="4" height="1.3" fill="#fff"/>
<rect x="60" y="314.65" width="4" height="1.3" fill="#fff"/>
<rect x="60" y="320.65" width="4" height="1.3" fill="#fff"/>
<polygon points="5.3,326.8 41.6,326.8 43.6,328.8 43.6,343.8 41.6,345.8 5.3,345.8 3.3,343.8 3.3,328.8" fill="#000"/>
<polygon points="5.5,328.7 41.4,328.7 42.1,329.4 42.1,342 41.4,342.7 5.5,342.7 4.8,342 4.8,329.4" fill="#fff"/>
<path d="M 10.70,331.50 V 338.32 Q 10.70,340.60 9.10,340.60 Q 7.50,340.60 7.50,338.78 M 15.50,340.60 V 331.50 H 17.90 Q 19.50,331.50 19.50,333.87 Q 19.50,336.23 17.90,336.23 H 15.50 M 25.90,340.60 V 331.50 Q 24.94,333.50 23.50,333.87 M 31.50,332.59 Q 32.14,331.50 33.50,331.50 Q 35.50,331.50 35.50,333.77 Q 35.50,335.87 33.26,335.87 Q 35.50,335.87 35.50,338.23 Q 35.50,340.60 33.50,340.60 Q 32.14,340.60 31.50,339.33" fill="none" stroke="#000" stroke-width="1" stroke-linejoin="miter" stroke-linecap="square"/>
<polygon points="41.9,334.75 43.6,334.75 43.6,333.05 46.6,333.05 46.6,334.15 53.6,334.15 53.6,335.35 58.9,335.35 58.9,336.75 54.5,336.75 54.5,337.85 48.7,337.85 48.7,339.15 45.4,339.15 45.4,340.15 43.6,340.15 43.6,338.15 41.9,338.15" fill="#000"/>
<polygon points="41.9,334.75 43.6,334.75 43.6,335.85 48.7,335.85 48.7,336.95 43.6,336.95 43.6,338.15 41.9,338.15" fill="#fff"/>
<rect x="58.9" y="325" width="6.2" height="18.5" fill="#000"/>
<rect x="60" y="325.85" width="4" height="1.3" fill="#fff"/>
<rect x="60" y="330.75" width="4" height="1.3" fill="#fff"/>
<rect x="60" y="336.95" width="4" height="1.3" fill="#fff"/>
<rect x="60.8" y="339.4" width="2.2" height="2.35" fill="#fff"/>
<polygon points="5.3,347.7 41.6,347.7 43.6,349.7 43.6,364.1 41.6,366.1 5.3,366.1 3.3,364.1 3.3,349.7" fill="#000"/>
<polygon points="5.5,349.6 41.4,349.6 42.1,350.3 42.1,362.3 41.4,363 5.5,363 4.8,362.3 4.8,350.3" fill="#fff"/>
<path d="M 10.70,351.50 V 357.43 Q 10.70,359.40 9.10,359.40 Q 7.50,359.40 7.50,357.82 M 15.50,359.40 V 351.50 H 17.90 Q 19.50,351.50 19.50,353.55 Q 19.50,355.61 17.90,355.61 H 15.50 M 25.90,359.40 V 351.50 Q 24.94,353.24 23.50,353.55 M 31.50,353.24 Q 31.82,351.50 33.50,351.50 Q 35.50,351.50 35.50,353.55 Q 35.50,354.82 33.90,356.24 L 31.50,359.40 H 35.50" fill="none" stroke="#000" stroke-width="1" stroke-linejoin="miter" stroke-linecap="square"/>
<polygon points="41.9,354.45 43.6,354.45 43.6,352.75 46.6,352.75 46.6,353.85 53.6,353.85 53.6,355.05 58.9,355.05 58.9,356.45 54.5,356.45 54.5,357.55 48.7,357.55 48.7,358.85 45.4,358.85 45.4,359.85 43.6,359.85 43.6,357.85 41.9,357.85" fill="#000"/>
<polygon points="41.9,354.45 43.6,354.45 43.6,355.55 48.7,355.55 48.7,356.65 43.6,356.65 43.6,357.85 41.9,357.85" fill="#fff"/>
<rect x="58.9" y="347.1" width="6.2" height="18.5" fill="#000"/>
<rect x="60" y="352.45" width="4" height="1.3" fill="#fff"/>
<rect x="60" y="357.45" width="4" height="1.3" fill="#fff"/>
<rect x="60" y="363.75" width="4" height="1.3" fill="#fff"/>
<rect x="60.8" y="360.8" width="2.2" height="2.2" fill="#fff"/>
<rect x="355" y="303" width="88" height="43" fill="#000"/>
<rect x="357" y="305" width="3.2" height="1" fill="#fff"/>
<rect x="363.23" y="305" width="3.2" height="1" fill="#fff"/>
<rect x="369.46" y="305" width="3.2" height="1" fill="#fff"/>
<rect x="375.69" y="305" width="3.2" height="1" fill="#fff"/>
<rect x="381.92" y="305" width="3.2" height="1" fill="#fff"/>
<rect x="388.15" y="305" width="3.2" height="1" fill="#fff"/>
<rect x="394.38" y="305" width="3.2" height="1" fill="#fff"/>
<rect x="400.61" y="305" width="3.2" height="1" fill="#fff"/>
<rect x="406.84" y="305" width="3.2" height="1" fill="#fff"/>
<rect x="413.07" y="305" width="3.2" height="1" fill="#fff"/>
<rect x="419.3" y="305" width="3.2" height="1" fill="#fff"/>
<rect x="425.53" y="305" width="3.2" height="1" fill="#fff"/>
<rect x="431.76" y="305" width="3.2" height="1" fill="#fff"/>
<rect x="437.99" y="305" width="3.2" height="1" fill="#fff"/>
<rect x="378.75" y="317" width="40.25" height="15" fill="#000"/>
<rect x="378.75" y="317" width="40.25" height="15" fill="#fff"/>
<path d="M 384.50,320.50 V 329.50 H 386.90 Q 388.50,329.50 388.50,327.25 Q 388.50,325.00 386.90,325.00 H 384.50 M 384.50,320.50 H 386.74 Q 388.18,320.50 388.18,322.75 Q 388.18,325.00 386.74,325.00 M 392.50,320.50 V 329.50 M 399.50,320.50 Q 402.50,320.50 402.50,325.00 Q 402.50,329.50 399.50,329.50 Q 396.50,329.50 396.50,325.00 Q 396.50,320.50 399.50,320.50 M 412.30,321.85 Q 411.70,320.50 410.00,320.50 Q 407.50,320.50 407.50,322.84 Q 407.50,324.46 410.00,325.00 Q 412.50,325.54 412.50,327.34 Q 412.50,329.50 410.00,329.50 Q 408.10,329.50 407.50,328.06" fill="none" stroke="#000" stroke-width="1" stroke-linejoin="miter" stroke-linecap="square"/>
<rect x="456" y="303" width="126" height="43" fill="#000"/>
<rect x="505" y="318" width="28" height="13.75" fill="#fff" rx="1.5"/>
<path d="M 507.50,319.50 V 329.10 M 511.50,319.50 L 507.50,325.45 M 508.94,323.34 L 511.50,329.10 M 516.50,319.50 V 329.10 H 518.90 Q 520.50,329.10 520.50,326.70 Q 520.50,324.30 518.90,324.30 H 516.50 M 516.50,319.50 H 518.74 Q 520.18,319.50 520.18,321.90 Q 520.18,324.30 518.74,324.30 M 525.50,319.50 V 329.10 H 527.50 Q 530.50,329.10 530.50,324.30 Q 530.50,319.50 527.50,319.50 H 525.50" fill="none" stroke="#000" stroke-width="1" stroke-linejoin="miter" stroke-linecap="square"/>
<rect x="611.85" y="299.9" width="14.35" height="7" fill="#000"/>
<rect x="612.8" y="301" width="1.4" height="4.7" fill="#fff"/>
<rect x="618.8" y="301" width="1.4" height="4.7" fill="#fff"/>
<rect x="623.9" y="301" width="1.4" height="4.7" fill="#fff"/>
<polygon points="605.15,322.3 632.9,322.3 635.9,325.3 635.9,337.8 632.9,340.8 605.15,340.8 602.15,337.8 602.15,325.3" fill="#000"/>
<polygon points="605.85,324.3 632.2,324.3 633.9,326 633.9,336.6 632.2,338.3 605.85,338.3 604.15,336.6 604.15,326" fill="#fff"/>
<path d="M 610.70,326.50 V 333.02 Q 610.70,335.20 609.10,335.20 Q 607.50,335.20 607.50,333.46 M 615.50,335.20 V 326.50 H 617.90 Q 619.50,326.50 619.50,328.76 Q 619.50,331.02 617.90,331.02 H 615.50 M 626.90,335.20 V 326.50 Q 625.94,328.41 624.50,328.76" fill="none" stroke="#000" stroke-width="1" stroke-linejoin="miter" stroke-linecap="square"/>
<polygon points="614.9,324.6 614.9,321.3 617.2,312.3 617.4,311.3 617.4,306.9 619,306.9 619,311.3 619.3,312.3 621.5,321.3 621.5,324.6" fill="#000"/>
<polygon points="616.6,324.6 619.9,324.6 619.9,321.3 618.6,315.3 617.9,315.3 616.6,321.3" fill="#fff"/>
<rect x="294" y="351" width="226" height="1" fill="#000"/>
<rect x="294" y="369" width="226" height="1" fill="#000"/>
<rect x="294" y="351" width="1" height="19" fill="#000"/>
<rect x="519" y="351" width="1" height="19" fill="#000"/>
<rect x="295" y="357.75" width="6" height="1.25" fill="#000"/>
<rect x="295" y="365" width="6" height="1" fill="#000"/>
<rect x="301" y="352" width="4" height="16" fill="#000"/>
<rect x="305" y="356.25" width="3" height="1" fill="#000"/>
<rect x="307" y="356.25" width="1" height="2.5" fill="#000"/>
<rect x="307" y="357.75" width="5" height="1" fill="#000"/>
<rect x="311" y="352" width="1" height="6.75" fill="#000"/>
<rect x="312" y="356" width="3" height="1" fill="#000"/>
<rect x="314" y="356" width="1" height="9.75" fill="#000"/>
<rect x="305" y="364.75" width="10" height="1" fill="#000"/>
<rect x="508" y="352" width="2" height="16.2" fill="#000"/>
<rect x="511" y="352" width="1" height="17" fill="#000"/>
<rect x="512" y="357.75" width="7" height="1" fill="#000"/>
<rect x="512" y="365" width="7" height="1" fill="#000"/>
<rect x="500" y="352" width="1" height="5.25" fill="#000"/>
<rect x="498.25" y="356.25" width="2.75" height="1" fill="#000"/>
<rect x="498.25" y="356.25" width="1" height="10.5" fill="#000"/>
<rect x="498.25" y="365.75" width="9" height="1" fill="#000"/>
<rect x="506.25" y="356.5" width="1" height="10.25" fill="#000"/>
<rect x="500" y="358.5" width="6" height="1" fill="#000"/>
<rect x="505" y="356.5" width="3" height="1" fill="#000"/>
<rect x="505" y="356.5" width="1" height="3" fill="#000"/>
<rect x="319" y="353.5" width="173.7" height="14.3" fill="#000"/>
<rect x="492.7" y="359.5" width="1.3" height="8.3" fill="#000"/>
<rect x="323.3" y="354.2" width="1.4" height="4.8" fill="#fff"/>
<rect x="321.9" y="360" width="4.2" height="6.2" fill="#fff"/>
<rect x="323.4" y="367" width="1.2" height="0.8" fill="#fff"/>
<rect x="329.19" y="354.2" width="1.4" height="4.8" fill="#fff"/>
<rect x="327.79" y="360" width="4.2" height="6.2" fill="#fff"/>
<rect x="329.29" y="367" width="1.2" height="0.8" fill="#fff"/>
<rect x="335.08" y="354.2" width="1.4" height="4.8" fill="#fff"/>
<rect x="333.68" y="360" width="4.2" height="6.2" fill="#fff"/>
<rect x="335.18" y="367" width="1.2" height="0.8" fill="#fff"/>
<rect x="340.97" y="354.2" width="1.4" height="4.8" fill="#fff"/>
<rect x="339.57" y="360" width="4.2" height="6.2" fill="#fff"/>
<rect x="341.07" y="367" width="1.2" height="0.8" fill="#fff"/>
<rect x="340.97" y="358" width="1.4" height="3" fill="#fff"/>
<rect x="346.86" y="354.2" width="1.4" height="4.8" fill="#fff"/>
<rect x="345.46" y="360" width="4.2" height="6.2" fill="#fff"/>
<rect x="346.96" y="367" width="1.2" height="0.8" fill="#fff"/>
<rect x="352.75" y="354.2" width="1.4" height="4.8" fill="#fff"/>
<rect x="351.35" y="360" width="4.2" height="6.2" fill="#fff"/>
<rect x="352.85" y="367" width="1.2" height="0.8" fill="#fff"/>
<rect x="352.75" y="358" width="1.4" height="3" fill="#fff"/>
<rect x="358.64" y="354.2" width="1.4" height="4.8" fill="#fff"/>
<rect x="357.24" y="360" width="4.2" height="6.2" fill="#fff"/>
<rect x="358.74" y="367" width="1.2" height="0.8" fill="#fff"/>
<rect x="358.64" y="358" width="1.4" height="3" fill="#fff"/>
<rect x="364.53" y="354.2" width="1.4" height="4.8" fill="#fff"/>
<rect x="363.13" y="360" width="4.2" height="6.2" fill="#fff"/>
<rect x="364.63" y="367" width="1.2" height="0.8" fill="#fff"/>
<rect x="370.42" y="354.2" width="1.4" height="4.8" fill="#fff"/>
<rect x="369.02" y="360" width="4.2" height="6.2" fill="#fff"/>
<rect x="370.52" y="367" width="1.2" height="0.8" fill="#fff"/>
<rect x="376.31" y="354.2" width="1.4" height="4.8" fill="#fff"/>
<rect x="374.91" y="360" width="4.2" height="6.2" fill="#fff"/>
<rect x="376.41" y="367" width="1.2" height="0.8" fill="#fff"/>
<rect x="382.2" y="354.2" width="1.4" height="4.8" fill="#fff"/>
<rect x="380.8" y="360" width="4.2" height="6.2" fill="#fff"/>
<rect x="382.3" y="367" width="1.2" height="0.8" fill="#fff"/>
<rect x="388.09" y="354.2" width="1.4" height="4.8" fill="#fff"/>
<rect x="386.69" y="360" width="4.2" height="6.2" fill="#fff"/>
<rect x="388.19" y="367" width="1.2" height="0.8" fill="#fff"/>
<rect x="393.98" y="354.2" width="1.4" height="4.8" fill="#fff"/>
<rect x="392.58" y="360" width="4.2" height="6.2" fill="#fff"/>
<rect x="394.08" y="367" width="1.2" height="0.8" fill="#fff"/>
<rect x="399.87" y="354.2" width="1.4" height="4.8" fill="#fff"/>
<rect x="398.47" y="360" width="4.2" height="6.2" fill="#fff"/>
<rect x="399.97" y="367" width="1.2" height="0.8" fill="#fff"/>
<rect x="405.76" y="354.2" width="1.4" height="4.8" fill="#fff"/>
<rect x="404.36" y="360" width="4.2" height="6.2" fill="#fff"/>
<rect x="405.86" y="367" width="1.2" height="0.8" fill="#fff"/>
<rect x="405.76" y="358" width="1.4" height="3" fill="#fff"/>
<rect x="411.65" y="354.2" width="1.4" height="4.8" fill="#fff"/>
<rect x="410.25" y="360" width="4.2" height="6.2" fill="#fff"/>
<rect x="411.75" y="367" width="1.2" height="0.8" fill="#fff"/>
<rect x="417.54" y="354.2" width="1.4" height="4.8" fill="#fff"/>
<rect x="416.14" y="360" width="4.2" height="6.2" fill="#fff"/>
<rect x="417.64" y="367" width="1.2" height="0.8" fill="#fff"/>
<rect x="423.43" y="354.2" width="1.4" height="4.8" fill="#fff"/>
<rect x="422.03" y="360" width="4.2" height="6.2" fill="#fff"/>
<rect x="423.53" y="367" width="1.2" height="0.8" fill="#fff"/>
<rect x="429.32" y="354.2" width="1.4" height="4.8" fill="#fff"/>
<rect x="427.92" y="360" width="4.2" height="6.2" fill="#fff"/>
<rect x="429.42" y="367" width="1.2" height="0.8" fill="#fff"/>
<rect x="435.21" y="354.2" width="1.4" height="4.8" fill="#fff"/>
<rect x="433.81" y="360" width="4.2" height="6.2" fill="#fff"/>
<rect x="435.31" y="367" width="1.2" height="0.8" fill="#fff"/>
<rect x="441.1" y="354.2" width="1.4" height="4.8" fill="#fff"/>
<rect x="439.7" y="360" width="4.2" height="6.2" fill="#fff"/>
<rect x="441.2" y="367" width="1.2" height="0.8" fill="#fff"/>
<rect x="446.99" y="354.2" width="1.4" height="4.8" fill="#fff"/>
<rect x="445.59" y="360" width="4.2" height="6.2" fill="#fff"/>
<rect x="447.09" y="367" width="1.2" height="0.8" fill="#fff"/>
<rect x="452.88" y="354.2" width="1.4" height="4.8" fill="#fff"/>
<rect x="451.48" y="360" width="4.2" height="6.2" fill="#fff"/>
<rect x="452.98" y="367" width="1.2" height="0.8" fill="#fff"/>
<rect x="458.77" y="354.2" width="1.4" height="4.8" fill="#fff"/>
<rect x="457.37" y="360" width="4.2" height="6.2" fill="#fff"/>
<rect x="458.87" y="367" width="1.2" height="0.8" fill="#fff"/>
<rect x="464.66" y="354.2" width="1.4" height="4.8" fill="#fff"/>
<rect x="463.26" y="360" width="4.2" height="6.2" fill="#fff"/>
<rect x="464.76" y="367" width="1.2" height="0.8" fill="#fff"/>
<rect x="470.55" y="354.2" width="1.4" height="4.8" fill="#fff"/>
<rect x="469.15" y="360" width="4.2" height="6.2" fill="#fff"/>
<rect x="470.65" y="367" width="1.2" height="0.8" fill="#fff"/>
<rect x="476.44" y="354.2" width="1.4" height="4.8" fill="#fff"/>
<rect x="475.04" y="360" width="4.2" height="6.2" fill="#fff"/>
<rect x="476.54" y="367" width="1.2" height="0.8" fill="#fff"/>
<rect x="482.33" y="354.2" width="1.4" height="4.8" fill="#fff"/>
<rect x="480.93" y="360" width="4.2" height="6.2" fill="#fff"/>
<rect x="482.43" y="367" width="1.2" height="0.8" fill="#fff"/>
<rect x="488.22" y="354.2" width="1.4" height="4.8" fill="#fff"/>
<rect x="486.82" y="360" width="4.2" height="6.2" fill="#fff"/>
<rect x="488.32" y="367" width="1.2" height="0.8" fill="#fff"/>
<rect x="491.8" y="360.5" width="1.4" height="5.5" fill="#fff"/>
<rect x="294" y="371.07" width="226" height="1" fill="#000"/>
<rect x="294" y="389.07" width="226" height="1" fill="#000"/>
<rect x="294" y="371.07" width="1" height="19" fill="#000"/>
<rect x="519" y="371.07" width="1" height="19" fill="#000"/>
<rect x="295" y="377.82" width="6" height="1.25" fill="#000"/>
<rect x="295" y="385.07" width="6" height="1" fill="#000"/>
<rect x="301" y="372.07" width="4" height="16" fill="#000"/>
<rect x="305" y="376.32" width="3" height="1" fill="#000"/>
<rect x="307" y="376.32" width="1" height="2.5" fill="#000"/>
<rect x="307" y="377.82" width="5" height="1" fill="#000"/>
<rect x="311" y="372.07" width="1" height="6.75" fill="#000"/>
<rect x="312" y="376.07" width="3" height="1" fill="#000"/>
<rect x="314" y="376.07" width="1" height="9.75" fill="#000"/>
<rect x="305" y="384.82" width="10" height="1" fill="#000"/>
<rect x="508" y="372.07" width="2" height="16.2" fill="#000"/>
<rect x="511" y="372.07" width="1" height="17" fill="#000"/>
<rect x="512" y="377.82" width="7" height="1" fill="#000"/>
<rect x="512" y="385.07" width="7" height="1" fill="#000"/>
<rect x="500" y="372.07" width="1" height="5.25" fill="#000"/>
<rect x="498.25" y="376.32" width="2.75" height="1" fill="#000"/>
<rect x="498.25" y="376.32" width="1" height="10.5" fill="#000"/>
<rect x="498.25" y="385.82" width="9" height="1" fill="#000"/>
<rect x="506.25" y="376.57" width="1" height="10.25" fill="#000"/>
<rect x="500" y="378.57" width="6" height="1" fill="#000"/>
<rect x="505" y="376.57" width="3" height="1" fill="#000"/>
<rect x="505" y="376.57" width="1" height="3" fill="#000"/>
<rect x="319" y="373.57" width="173.7" height="14.3" fill="#000"/>
<rect x="492.7" y="379.57" width="1.3" height="8.3" fill="#000"/>
<rect x="323.3" y="374.27" width="1.4" height="4.8" fill="#fff"/>
<rect x="321.9" y="380.07" width="4.2" height="6.2" fill="#fff"/>
<rect x="323.4" y="387.07" width="1.2" height="0.8" fill="#fff"/>
<rect x="329.19" y="374.27" width="1.4" height="4.8" fill="#fff"/>
<rect x="327.79" y="380.07" width="4.2" height="6.2" fill="#fff"/>
<rect x="329.29" y="387.07" width="1.2" height="0.8" fill="#fff"/>
<rect x="335.08" y="374.27" width="1.4" height="4.8" fill="#fff"/>
<rect x="333.68" y="380.07" width="4.2" height="6.2" fill="#fff"/>
<rect x="335.18" y="387.07" width="1.2" height="0.8" fill="#fff"/>
<rect x="340.97" y="374.27" width="1.4" height="4.8" fill="#fff"/>
<rect x="339.57" y="380.07" width="4.2" height="6.2" fill="#fff"/>
<rect x="341.07" y="387.07" width="1.2" height="0.8" fill="#fff"/>
<rect x="340.97" y="378.07" width="1.4" height="3" fill="#fff"/>
<rect x="346.86" y="374.27" width="1.4" height="4.8" fill="#fff"/>
<rect x="345.46" y="380.07" width="4.2" height="6.2" fill="#fff"/>
<rect x="346.96" y="387.07" width="1.2" height="0.8" fill="#fff"/>
<rect x="352.75" y="374.27" width="1.4" height="4.8" fill="#fff"/>
<rect x="351.35" y="380.07" width="4.2" height="6.2" fill="#fff"/>
<rect x="352.85" y="387.07" width="1.2" height="0.8" fill="#fff"/>
<rect x="352.75" y="378.07" width="1.4" height="3" fill="#fff"/>
<rect x="358.64" y="374.27" width="1.4" height="4.8" fill="#fff"/>
<rect x="357.24" y="380.07" width="4.2" height="6.2" fill="#fff"/>
<rect x="358.74" y="387.07" width="1.2" height="0.8" fill="#fff"/>
<rect x="358.64" y="378.07" width="1.4" height="3" fill="#fff"/>
<rect x="364.53" y="374.27" width="1.4" height="4.8" fill="#fff"/>
<rect x="363.13" y="380.07" width="4.2" height="6.2" fill="#fff"/>
<rect x="364.63" y="387.07" width="1.2" height="0.8" fill="#fff"/>
<rect x="370.42" y="374.27" width="1.4" height="4.8" fill="#fff"/>
<rect x="369.02" y="380.07" width="4.2" height="6.2" fill="#fff"/>
<rect x="370.52" y="387.07" width="1.2" height="0.8" fill="#fff"/>
<rect x="376.31" y="374.27" width="1.4" height="4.8" fill="#fff"/>
<rect x="374.91" y="380.07" width="4.2" height="6.2" fill="#fff"/>
<rect x="376.41" y="387.07" width="1.2" height="0.8" fill="#fff"/>
<rect x="382.2" y="374.27" width="1.4" height="4.8" fill="#fff"/>
<rect x="380.8" y="380.07" width="4.2" height="6.2" fill="#fff"/>
<rect x="382.3" y="387.07" width="1.2" height="0.8" fill="#fff"/>
<rect x="388.09" y="374.27" width="1.4" height="4.8" fill="#fff"/>
<rect x="386.69" y="380.07" width="4.2" height="6.2" fill="#fff"/>
<rect x="388.19" y="387.07" width="1.2" height="0.8" fill="#fff"/>
<rect x="393.98" y="374.27" width="1.4" height="4.8" fill="#fff"/>
<rect x="392.58" y="380.07" width="4.2" height="6.2" fill="#fff"/>
<rect x="394.08" y="387.07" width="1.2" height="0.8" fill="#fff"/>
<rect x="399.87" y="374.27" width="1.4" height="4.8" fill="#fff"/>
<rect x="398.47" y="380.07" width="4.2" height="6.2" fill="#fff"/>
<rect x="399.97" y="387.07" width="1.2" height="0.8" fill="#fff"/>
<rect x="405.76" y="374.27" width="1.4" height="4.8" fill="#fff"/>
<rect x="404.36" y="380.07" width="4.2" height="6.2" fill="#fff"/>
<rect x="405.86" y="387.07" width="1.2" height="0.8" fill="#fff"/>
<rect x="405.76" y="378.07" width="1.4" height="3" fill="#fff"/>
<rect x="411.65" y="374.27" width="1.4" height="4.8" fill="#fff"/>
<rect x="410.25" y="380.07" width="4.2" height="6.2" fill="#fff"/>
<rect x="411.75" y="387.07" width="1.2" height="0.8" fill="#fff"/>
<rect x="417.54" y="374.27" width="1.4" height="4.8" fill="#fff"/>
<rect x="416.14" y="380.07" width="4.2" height="6.2" fill="#fff"/>
<rect x="417.64" y="387.07" width="1.2" height="0.8" fill="#fff"/>
<rect x="423.43" y="374.27" width="1.4" height="4.8" fill="#fff"/>
<rect x="422.03" y="380.07" width="4.2" height="6.2" fill="#fff"/>
<rect x="423.53" y="387.07" width="1.2" height="0.8" fill="#fff"/>
<rect x="429.32" y="374.27" width="1.4" height="4.8" fill="#fff"/>
<rect x="427.92" y="380.07" width="4.2" height="6.2" fill="#fff"/>
<rect x="429.42" y="387.07" width="1.2" height="0.8" fill="#fff"/>
<rect x="435.21" y="374.27" width="1.4" height="4.8" fill="#fff"/>
<rect x="433.81" y="380.07" width="4.2" height="6.2" fill="#fff"/>
<rect x="435.31" y="387.07" width="1.2" height="0.8" fill="#fff"/>
<rect x="441.1" y="374.27" width="1.4" height="4.8" fill="#fff"/>
<rect x="439.7" y="380.07" width="4.2" height="6.2" fill="#fff"/>
<rect x="441.2" y="387.07" width="1.2" height="0.8" fill="#fff"/>
<rect x="446.99" y="374.27" width="1.4" height="4.8" fill="#fff"/>
<rect x="445.59" y="380.07" width="4.2" height="6.2" fill="#fff"/>
<rect x="447.09" y="387.07" width="1.2" height="0.8" fill="#fff"/>
<rect x="452.88" y="374.27" width="1.4" height="4.8" fill="#fff"/>
<rect x="451.48" y="380.07" width="4.2" height="6.2" fill="#fff"/>
<rect x="452.98" y="387.07" width="1.2" height="0.8" fill="#fff"/>
<rect x="458.77" y="374.27" width="1.4" height="4.8" fill="#fff"/>
<rect x="457.37" y="380.07" width="4.2" height="6.2" fill="#fff"/>
<rect x="458.87" y="387.07" width="1.2" height="0.8" fill="#fff"/>
<rect x="464.66" y="374.27" width="1.4" height="4.8" fill="#fff"/>
<rect x="463.26" y="380.07" width="4.2" height="6.2" fill="#fff"/>
<rect x="464.76" y="387.07" width="1.2" height="0.8" fill="#fff"/>
<rect x="470.55" y="374.27" width="1.4" height="4.8" fill="#fff"/>
<rect x="469.15" y="380.07" width="4.2" height="6.2" fill="#fff"/>
<rect x="470.65" y="387.07" width="1.2" height="0.8" fill="#fff"/>
<rect x="476.44" y="374.27" width="1.4" height="4.8" fill="#fff"/>
<rect x="475.04" y="380.07" width="4.2" height="6.2" fill="#fff"/>
<rect x="476.54" y="387.07" width="1.2" height="0.8" fill="#fff"/>
<rect x="482.33" y="374.27" width="1.4" height="4.8" fill="#fff"/>
<rect x="480.93" y="380.07" width="4.2" height="6.2" fill="#fff"/>
<rect x="482.43" y="387.07" width="1.2" height="0.8" fill="#fff"/>
<rect x="488.22" y="374.27" width="1.4" height="4.8" fill="#fff"/>
<rect x="486.82" y="380.07" width="4.2" height="6.2" fill="#fff"/>
<rect x="488.32" y="387.07" width="1.2" height="0.8" fill="#fff"/>
<rect x="491.8" y="380.57" width="1.4" height="5.5" fill="#fff"/>
<rect x="294" y="391.14" width="226" height="1" fill="#000"/>
<rect x="294" y="409.14" width="226" height="1" fill="#000"/>
<rect x="294" y="391.14" width="1" height="19" fill="#000"/>
<rect x="519" y="391.14" width="1" height="19" fill="#000"/>
<rect x="295" y="397.89" width="6" height="1.25" fill="#000"/>
<rect x="295" y="405.14" width="6" height="1" fill="#000"/>
<rect x="301" y="392.14" width="4" height="16" fill="#000"/>
<rect x="305" y="396.39" width="3" height="1" fill="#000"/>
<rect x="307" y="396.39" width="1" height="2.5" fill="#000"/>
<rect x="307" y="397.89" width="5" height="1" fill="#000"/>
<rect x="311" y="392.14" width="1" height="6.75" fill="#000"/>
<rect x="312" y="396.14" width="3" height="1" fill="#000"/>
<rect x="314" y="396.14" width="1" height="9.75" fill="#000"/>
<rect x="305" y="404.89" width="10" height="1" fill="#000"/>
<rect x="508" y="392.14" width="2" height="16.2" fill="#000"/>
<rect x="511" y="392.14" width="1" height="17" fill="#000"/>
<rect x="512" y="397.89" width="7" height="1" fill="#000"/>
<rect x="512" y="405.14" width="7" height="1" fill="#000"/>
<rect x="500" y="392.14" width="1" height="5.25" fill="#000"/>
<rect x="498.25" y="396.39" width="2.75" height="1" fill="#000"/>
<rect x="498.25" y="396.39" width="1" height="10.5" fill="#000"/>
<rect x="498.25" y="405.89" width="9" height="1" fill="#000"/>
<rect x="506.25" y="396.64" width="1" height="10.25" fill="#000"/>
<rect x="500" y="398.64" width="6" height="1" fill="#000"/>
<rect x="505" y="396.64" width="3" height="1" fill="#000"/>
<rect x="505" y="396.64" width="1" height="3" fill="#000"/>
<rect x="319" y="393.64" width="173.7" height="14.3" fill="#000"/>
<rect x="492.7" y="399.64" width="1.3" height="8.3" fill="#000"/>
<rect x="323.3" y="394.34" width="1.4" height="4.8" fill="#fff"/>
<rect x="321.9" y="400.14" width="4.2" height="6.2" fill="#fff"/>
<rect x="323.4" y="407.14" width="1.2" height="0.8" fill="#fff"/>
<rect x="329.19" y="394.34" width="1.4" height="4.8" fill="#fff"/>
<rect x="327.79" y="400.14" width="4.2" height="6.2" fill="#fff"/>
<rect x="329.29" y="407.14" width="1.2" height="0.8" fill="#fff"/>
<rect x="335.08" y="394.34" width="1.4" height="4.8" fill="#fff"/>
<rect x="333.68" y="400.14" width="4.2" height="6.2" fill="#fff"/>
<rect x="335.18" y="407.14" width="1.2" height="0.8" fill="#fff"/>
<rect x="340.97" y="394.34" width="1.4" height="4.8" fill="#fff"/>
<rect x="339.57" y="400.14" width="4.2" height="6.2" fill="#fff"/>
<rect x="341.07" y="407.14" width="1.2" height="0.8" fill="#fff"/>
<rect x="340.97" y="398.14" width="1.4" height="3" fill="#fff"/>
<rect x="346.86" y="394.34" width="1.4" height="4.8" fill="#fff"/>
<rect x="345.46" y="400.14" width="4.2" height="6.2" fill="#fff"/>
<rect x="346.96" y="407.14" width="1.2" height="0.8" fill="#fff"/>
<rect x="352.75" y="394.34" width="1.4" height="4.8" fill="#fff"/>
<rect x="351.35" y="400.14" width="4.2" height="6.2" fill="#fff"/>
<rect x="352.85" y="407.14" width="1.2" height="0.8" fill="#fff"/>
<rect x="352.75" y="398.14" width="1.4" height="3" fill="#fff"/>
<rect x="358.64" y="394.34" width="1.4" height="4.8" fill="#fff"/>
<rect x="357.24" y="400.14" width="4.2" height="6.2" fill="#fff"/>
<rect x="358.74" y="407.14" width="1.2" height="0.8" fill="#fff"/>
<rect x="358.64" y="398.14" width="1.4" height="3" fill="#fff"/>
<rect x="364.53" y="394.34" width="1.4" height="4.8" fill="#fff"/>
<rect x="363.13" y="400.14" width="4.2" height="6.2" fill="#fff"/>
<rect x="364.63" y="407.14" width="1.2" height="0.8" fill="#fff"/>
<rect x="370.42" y="394.34" width="1.4" height="4.8" fill="#fff"/>
<rect x="369.02" y="400.14" width="4.2" height="6.2" fill="#fff"/>
<rect x="370.52" y="407.14" width="1.2" height="0.8" fill="#fff"/>
<rect x="376.31" y="394.34" width="1.4" height="4.8" fill="#fff"/>
<rect x="374.91" y="400.14" width="4.2" height="6.2" fill="#fff"/>
<rect x="376.41" y="407.14" width="1.2" height="0.8" fill="#fff"/>
<rect x="382.2" y="394.34" width="1.4" height="4.8" fill="#fff"/>
<rect x="380.8" y="400.14" width="4.2" height="6.2" fill="#fff"/>
<rect x="382.3" y="407.14" width="1.2" height="0.8" fill="#fff"/>
<rect x="388.09" y="394.34" width="1.4" height="4.8" fill="#fff"/>
<rect x="386.69" y="400.14" width="4.2" height="6.2" fill="#fff"/>
<rect x="388.19" y="407.14" width="1.2" height="0.8" fill="#fff"/>
<rect x="393.98" y="394.34" width="1.4" height="4.8" fill="#fff"/>
<rect x="392.58" y="400.14" width="4.2" height="6.2" fill="#fff"/>
<rect x="394.08" y="407.14" width="1.2" height="0.8" fill="#fff"/>
<rect x="399.87" y="394.34" width="1.4" height="4.8" fill="#fff"/>
<rect x="398.47" y="400.14" width="4.2" height="6.2" fill="#fff"/>
<rect x="399.97" y="407.14" width="1.2" height="0.8" fill="#fff"/>
<rect x="405.76" y="394.34" width="1.4" height="4.8" fill="#fff"/>
<rect x="404.36" y="400.14" width="4.2" height="6.2" fill="#fff"/>
<rect x="405.86" y="407.14" width="1.2" height="0.8" fill="#fff"/>
<rect x="405.76" y="398.14" width="1.4" height="3" fill="#fff"/>
<rect x="411.65" y="394.34" width="1.4" height="4.8" fill="#fff"/>
<rect x="410.25" y="400.14" width="4.2" height="6.2" fill="#fff"/>
<rect x="411.75" y="407.14" width="1.2" height="0.8" fill="#fff"/>
<rect x="417.54" y="394.34" width="1.4" height="4.8" fill="#fff"/>
<rect x="416.14" y="400.14" width="4.2" height="6.2" fill="#fff"/>
<rect x="417.64" y="407.14" width="1.2" height="0.8" fill="#fff"/>
<rect x="423.43" y="394.34" width="1.4" height="4.8" fill="#fff"/>
<rect x="422.03" y="400.14" width="4.2" height="6.2" fill="#fff"/>
<rect x="423.53" y="407.14" width="1.2" height="0.8" fill="#fff"/>
<rect x="429.32" y="394.34" width="1.4" height="4.8" fill="#fff"/>
<rect x="427.92" y="400.14" width="4.2" height="6.2" fill="#fff"/>
<rect x="429.42" y="407.14" width="1.2" height="0.8" fill="#fff"/>
<rect x="435.21" y="394.34" width="1.4" height="4.8" fill="#fff"/>
<rect x="433.81" y="400.14" width="4.2" height="6.2" fill="#fff"/>
<rect x="435.31" y="407.14" width="1.2" height="0.8" fill="#fff"/>
<rect x="441.1" y="394.34" width="1.4" height="4.8" fill="#fff"/>
<rect x="439.7" y="400.14" width="4.2" height="6.2" fill="#fff"/>
<rect x="441.2" y="407.14" width="1.2" height="0.8" fill="#fff"/>
<rect x="446.99" y="394.34" width="1.4" height="4.8" fill="#fff"/>
<rect x="445.59" y="400.14" width="4.2" height="6.2" fill="#fff"/>
<rect x="447.09" y="407.14" width="1.2" height="0.8" fill="#fff"/>
<rect x="452.88" y="394.34" width="1.4" height="4.8" fill="#fff"/>
<rect x="451.48" y="400.14" width="4.2" height="6.2" fill="#fff"/>
<rect x="452.98" y="407.14" width="1.2" height="0.8" fill="#fff"/>
<rect x="458.77" y="394.34" width="1.4" height="4.8" fill="#fff"/>
<rect x="457.37" y="400.14" width="4.2" height="6.2" fill="#fff"/>
<rect x="458.87" y="407.14" width="1.2" height="0.8" fill="#fff"/>
<rect x="464.66" y="394.34" width="1.4" height="4.8" fill="#fff"/>
<rect x="463.26" y="400.14" width="4.2" height="6.2" fill="#fff"/>
<rect x="464.76" y="407.14" width="1.2" height="0.8" fill="#fff"/>
<rect x="470.55" y="394.34" width="1.4" height="4.8" fill="#fff"/>
<rect x="469.15" y="400.14" width="4.2" height="6.2" fill="#fff"/>
<rect x="470.65" y="407.14" width="1.2" height="0.8" fill="#fff"/>
<rect x="476.44" y="394.34" width="1.4" height="4.8" fill="#fff"/>
<rect x="475.04" y="400.14" width="4.2" height="6.2" fill="#fff"/>
<rect x="476.54" y="407.14" width="1.2" height="0.8" fill="#fff"/>
<rect x="482.33" y="394.34" width="1.4" height="4.8" fill="#fff"/>
<rect x="480.93" y="400.14" width="4.2" height="6.2" fill="#fff"/>
<rect x="482.43" y="407.14" width="1.2" height="0.8" fill="#fff"/>
<rect x="488.22" y="394.34" width="1.4" height="4.8" fill="#fff"/>
<rect x="486.82" y="400.14" width="4.2" height="6.2" fill="#fff"/>
<rect x="488.32" y="407.14" width="1.2" height="0.8" fill="#fff"/>
<rect x="491.8" y="400.64" width="1.4" height="5.5" fill="#fff"/>
<rect x="294" y="411.21" width="226" height="1" fill="#000"/>
<rect x="294" y="429.21" width="226" height="1" fill="#000"/>
<rect x="294" y="411.21" width="1" height="19" fill="#000"/>
<rect x="519" y="411.21" width="1" height="19" fill="#000"/>
<rect x="295" y="417.96" width="6" height="1.25" fill="#000"/>
<rect x="295" y="425.21" width="6" height="1" fill="#000"/>
<rect x="301" y="412.21" width="4" height="16" fill="#000"/>
<rect x="305" y="416.46" width="3" height="1" fill="#000"/>
<rect x="307" y="416.46" width="1" height="2.5" fill="#000"/>
<rect x="307" y="417.96" width="5" height="1" fill="#000"/>
<rect x="311" y="412.21" width="1" height="6.75" fill="#000"/>
<rect x="312" y="416.21" width="3" height="1" fill="#000"/>
<rect x="314" y="416.21" width="1" height="9.75" fill="#000"/>
<rect x="305" y="424.96" width="10" height="1" fill="#000"/>
<rect x="508" y="412.21" width="2" height="16.2" fill="#000"/>
<rect x="511" y="412.21" width="1" height="17" fill="#000"/>
<rect x="512" y="417.96" width="7" height="1" fill="#000"/>
<rect x="512" y="425.21" width="7" height="1" fill="#000"/>
<rect x="500" y="412.21" width="1" height="5.25" fill="#000"/>
<rect x="498.25" y="416.46" width="2.75" height="1" fill="#000"/>
<rect x="498.25" y="416.46" width="1" height="10.5" fill="#000"/>
<rect x="498.25" y="425.96" width="9" height="1" fill="#000"/>
<rect x="506.25" y="416.71" width="1" height="10.25" fill="#000"/>
<rect x="500" y="418.71" width="6" height="1" fill="#000"/>
<rect x="505" y="416.71" width="3" height="1" fill="#000"/>
<rect x="505" y="416.71" width="1" height="3" fill="#000"/>
<rect x="319" y="413.71" width="173.7" height="14.3" fill="#000"/>
<rect x="492.7" y="419.71" width="1.3" height="8.3" fill="#000"/>
<rect x="323.3" y="414.41" width="1.4" height="4.8" fill="#fff"/>
<rect x="321.9" y="420.21" width="4.2" height="6.2" fill="#fff"/>
<rect x="323.4" y="427.21" width="1.2" height="0.8" fill="#fff"/>
<rect x="329.19" y="414.41" width="1.4" height="4.8" fill="#fff"/>
<rect x="327.79" y="420.21" width="4.2" height="6.2" fill="#fff"/>
<rect x="329.29" y="427.21" width="1.2" height="0.8" fill="#fff"/>
<rect x="335.08" y="414.41" width="1.4" height="4.8" fill="#fff"/>
<rect x="333.68" y="420.21" width="4.2" height="6.2" fill="#fff"/>
<rect x="335.18" y="427.21" width="1.2" height="0.8" fill="#fff"/>
<rect x="340.97" y="414.41" width="1.4" height="4.8" fill="#fff"/>
<rect x="339.57" y="420.21" width="4.2" height="6.2" fill="#fff"/>
<rect x="341.07" y="427.21" width="1.2" height="0.8" fill="#fff"/>
<rect x="340.97" y="418.21" width="1.4" height="3" fill="#fff"/>
<rect x="346.86" y="414.41" width="1.4" height="4.8" fill="#fff"/>
<rect x="345.46" y="420.21" width="4.2" height="6.2" fill="#fff"/>
<rect x="346.96" y="427.21" width="1.2" height="0.8" fill="#fff"/>
<rect x="352.75" y="414.41" width="1.4" height="4.8" fill="#fff"/>
<rect x="351.35" y="420.21" width="4.2" height="6.2" fill="#fff"/>
<rect x="352.85" y="427.21" width="1.2" height="0.8" fill="#fff"/>
<rect x="352.75" y="418.21" width="1.4" height="3" fill="#fff"/>
<rect x="358.64" y="414.41" width="1.4" height="4.8" fill="#fff"/>
<rect x="357.24" y="420.21" width="4.2" height="6.2" fill="#fff"/>
<rect x="358.74" y="427.21" width="1.2" height="0.8" fill="#fff"/>
<rect x="358.64" y="418.21" width="1.4" height="3" fill="#fff"/>
<rect x="364.53" y="414.41" width="1.4" height="4.8" fill="#fff"/>
<rect x="363.13" y="420.21" width="4.2" height="6.2" fill="#fff"/>
<rect x="364.63" y="427.21" width="1.2" height="0.8" fill="#fff"/>
<rect x="370.42" y="414.41" width="1.4" height="4.8" fill="#fff"/>
<rect x="369.02" y="420.21" width="4.2" height="6.2" fill="#fff"/>
<rect x="370.52" y="427.21" width="1.2" height="0.8" fill="#fff"/>
<rect x="376.31" y="414.41" width="1.4" height="4.8" fill="#fff"/>
<rect x="374.91" y="420.21" width="4.2" height="6.2" fill="#fff"/>
<rect x="376.41" y="427.21" width="1.2" height="0.8" fill="#fff"/>
<rect x="382.2" y="414.41" width="1.4" height="4.8" fill="#fff"/>
<rect x="380.8" y="420.21" width="4.2" height="6.2" fill="#fff"/>
<rect x="382.3" y="427.21" width="1.2" height="0.8" fill="#fff"/>
<rect x="388.09" y="414.41" width="1.4" height="4.8" fill="#fff"/>
<rect x="386.69" y="420.21" width="4.2" height="6.2" fill="#fff"/>
<rect x="388.19" y="427.21" width="1.2" height="0.8" fill="#fff"/>
<rect x="393.98" y="414.41" width="1.4" height="4.8" fill="#fff"/>
<rect x="392.58" y="420.21" width="4.2" height="6.2" fill="#fff"/>
<rect x="394.08" y="427.21" width="1.2" height="0.8" fill="#fff"/>
<rect x="399.87" y="414.41" width="1.4" height="4.8" fill="#fff"/>
<rect x="398.47" y="420.21" width="4.2" height="6.2" fill="#fff"/>
<rect x="399.97" y="427.21" width="1.2" height="0.8" fill="#fff"/>
<rect x="405.76" y="414.41" width="1.4" height="4.8" fill="#fff"/>
<rect x="404.36" y="420.21" width="4.2" height="6.2" fill="#fff"/>
<rect x="405.86" y="427.21" width="1.2" height="0.8" fill="#fff"/>
<rect x="405.76" y="418.21" width="1.4" height="3" fill="#fff"/>
<rect x="411.65" y="414.41" width="1.4" height="4.8" fill="#fff"/>
<rect x="410.25" y="420.21" width="4.2" height="6.2" fill="#fff"/>
<rect x="411.75" y="427.21" width="1.2" height="0.8" fill="#fff"/>
<rect x="417.54" y="414.41" width="1.4" height="4.8" fill="#fff"/>
<rect x="416.14" y="420.21" width="4.2" height="6.2" fill="#fff"/>
<rect x="417.64" y="427.21" width="1.2" height="0.8" fill="#fff"/>
<rect x="423.43" y="414.41" width="1.4" height="4.8" fill="#fff"/>
<rect x="422.03" y="420.21" width="4.2" height="6.2" fill="#fff"/>
<rect x="423.53" y="427.21" width="1.2" height="0.8" fill="#fff"/>
<rect x="429.32" y="414.41" width="1.4" height="4.8" fill="#fff"/>
<rect x="427.92" y="420.21" width="4.2" height="6.2" fill="#fff"/>
<rect x="429.42" y="427.21" width="1.2" height="0.8" fill="#fff"/>
<rect x="435.21" y="414.41" width="1.4" height="4.8" fill="#fff"/>
<rect x="433.81" y="420.21" width="4.2" height="6.2" fill="#fff"/>
<rect x="435.31" y="427.21" width="1.2" height="0.8" fill="#fff"/>
<rect x="441.1" y="414.41" width="1.4" height="4.8" fill="#fff"/>
<rect x="439.7" y="420.21" width="4.2" height="6.2" fill="#fff"/>
<rect x="441.2" y="427.21" width="1.2" height="0.8" fill="#fff"/>
<rect x="446.99" y="414.41" width="1.4" height="4.8" fill="#fff"/>
<rect x="445.59" y="420.21" width="4.2" height="6.2" fill="#fff"/>
<rect x="447.09" y="427.21" width="1.2" height="0.8" fill="#fff"/>
<rect x="452.88" y="414.41" width="1.4" height="4.8" fill="#fff"/>
<rect x="451.48" y="420.21" width="4.2" height="6.2" fill="#fff"/>
<rect x="452.98" y="427.21" width="1.2" height="0.8" fill="#fff"/>
<rect x="458.77" y="414.41" width="1.4" height="4.8" fill="#fff"/>
<rect x="457.37" y="420.21" width="4.2" height="6.2" fill="#fff"/>
<rect x="458.87" y="427.21" width="1.2" height="0.8" fill="#fff"/>
<rect x="464.66" y="414.41" width="1.4" height="4.8" fill="#fff"/>
<rect x="463.26" y="420.21" width="4.2" height="6.2" fill="#fff"/>
<rect x="464.76" y="427.21" width="1.2" height="0.8" fill="#fff"/>
<rect x="470.55" y="414.41" width="1.4" height="4.8" fill="#fff"/>
<rect x="469.15" y="420.21" width="4.2" height="6.2" fill="#fff"/>
<rect x="470.65" y="427.21" width="1.2" height="0.8" fill="#fff"/>
<rect x="476.44" y="414.41" width="1.4" height="4.8" fill="#fff"/>
<rect x="475.04" y="420.21" width="4.2" height="6.2" fill="#fff"/>
<rect x="476.54" y="427.21" width="1.2" height="0.8" fill="#fff"/>
<rect x="482.33" y="414.41" width="1.4" height="4.8" fill="#fff"/>
<rect x="480.93" y="420.21" width="4.2" height="6.2" fill="#fff"/>
<rect x="482.43" y="427.21" width="1.2" height="0.8" fill="#fff"/>
<rect x="488.22" y="414.41" width="1.4" height="4.8" fill="#fff"/>
<rect x="486.82" y="420.21" width="4.2" height="6.2" fill="#fff"/>
<rect x="488.32" y="427.21" width="1.2" height="0.8" fill="#fff"/>
<rect x="491.8" y="420.71" width="1.4" height="5.5" fill="#fff"/>
<rect x="294" y="431.28" width="226" height="1" fill="#000"/>
<rect x="294" y="449.28" width="226" height="1" fill="#000"/>
<rect x="294" y="431.28" width="1" height="19" fill="#000"/>
<rect x="519" y="431.28" width="1" height="19" fill="#000"/>
<rect x="295" y="438.03" width="6" height="1.25" fill="#000"/>
<rect x="295" y="445.28" width="6" height="1" fill="#000"/>
<rect x="301" y="432.28" width="4" height="16" fill="#000"/>
<rect x="305" y="436.53" width="3" height="1" fill="#000"/>
<rect x="307" y="436.53" width="1" height="2.5" fill="#000"/>
<rect x="307" y="438.03" width="5" height="1" fill="#000"/>
<rect x="311" y="432.28" width="1" height="6.75" fill="#000"/>
<rect x="312" y="436.28" width="3" height="1" fill="#000"/>
<rect x="314" y="436.28" width="1" height="9.75" fill="#000"/>
<rect x="305" y="445.03" width="10" height="1" fill="#000"/>
<rect x="508" y="432.28" width="2" height="16.2" fill="#000"/>
<rect x="511" y="432.28" width="1" height="17" fill="#000"/>
<rect x="512" y="438.03" width="7" height="1" fill="#000"/>
<rect x="512" y="445.28" width="7" height="1" fill="#000"/>
<rect x="500" y="432.28" width="1" height="5.25" fill="#000"/>
<rect x="498.25" y="436.53" width="2.75" height="1" fill="#000"/>
<rect x="498.25" y="436.53" width="1" height="10.5" fill="#000"/>
<rect x="498.25" y="446.03" width="9" height="1" fill="#000"/>
<rect x="506.25" y="436.78" width="1" height="10.25" fill="#000"/>
<rect x="500" y="438.78" width="6" height="1" fill="#000"/>
<rect x="505" y="436.78" width="3" height="1" fill="#000"/>
<rect x="505" y="436.78" width="1" height="3" fill="#000"/>
<rect x="319" y="433.78" width="173.7" height="14.3" fill="#000"/>
<rect x="492.7" y="439.78" width="1.3" height="8.3" fill="#000"/>
<rect x="323.3" y="434.48" width="1.4" height="4.8" fill="#fff"/>
<rect x="321.9" y="440.28" width="4.2" height="6.2" fill="#fff"/>
<rect x="323.4" y="447.28" width="1.2" height="0.8" fill="#fff"/>
<rect x="329.19" y="434.48" width="1.4" height="4.8" fill="#fff"/>
<rect x="327.79" y="440.28" width="4.2" height="6.2" fill="#fff"/>
<rect x="329.29" y="447.28" width="1.2" height="0.8" fill="#fff"/>
<rect x="335.08" y="434.48" width="1.4" height="4.8" fill="#fff"/>
<rect x="333.68" y="440.28" width="4.2" height="6.2" fill="#fff"/>
<rect x="335.18" y="447.28" width="1.2" height="0.8" fill="#fff"/>
<rect x="340.97" y="434.48" width="1.4" height="4.8" fill="#fff"/>
<rect x="339.57" y="440.28" width="4.2" height="6.2" fill="#fff"/>
<rect x="341.07" y="447.28" width="1.2" height="0.8" fill="#fff"/>
<rect x="340.97" y="438.28" width="1.4" height="3" fill="#fff"/>
<rect x="346.86" y="434.48" width="1.4" height="4.8" fill="#fff"/>
<rect x="345.46" y="440.28" width="4.2" height="6.2" fill="#fff"/>
<rect x="346.96" y="447.28" width="1.2" height="0.8" fill="#fff"/>
<rect x="352.75" y="434.48" width="1.4" height="4.8" fill="#fff"/>
<rect x="351.35" y="440.28" width="4.2" height="6.2" fill="#fff"/>
<rect x="352.85" y="447.28" width="1.2" height="0.8" fill="#fff"/>
<rect x="352.75" y="438.28" width="1.4" height="3" fill="#fff"/>
<rect x="358.64" y="434.48" width="1.4" height="4.8" fill="#fff"/>
<rect x="357.24" y="440.28" width="4.2" height="6.2" fill="#fff"/>
<rect x="358.74" y="447.28" width="1.2" height="0.8" fill="#fff"/>
<rect x="358.64" y="438.28" width="1.4" height="3" fill="#fff"/>
<rect x="364.53" y="434.48" width="1.4" height="4.8" fill="#fff"/>
<rect x="363.13" y="440.28" width="4.2" height="6.2" fill="#fff"/>
<rect x="364.63" y="447.28" width="1.2" height="0.8" fill="#fff"/>
<rect x="370.42" y="434.48" width="1.4" height="4.8" fill="#fff"/>
<rect x="369.02" y="440.28" width="4.2" height="6.2" fill="#fff"/>
<rect x="370.52" y="447.28" width="1.2" height="0.8" fill="#fff"/>
<rect x="376.31" y="434.48" width="1.4" height="4.8" fill="#fff"/>
<rect x="374.91" y="440.28" width="4.2" height="6.2" fill="#fff"/>
<rect x="376.41" y="447.28" width="1.2" height="0.8" fill="#fff"/>
<rect x="382.2" y="434.48" width="1.4" height="4.8" fill="#fff"/>
<rect x="380.8" y="440.28" width="4.2" height="6.2" fill="#fff"/>
<rect x="382.3" y="447.28" width="1.2" height="0.8" fill="#fff"/>
<rect x="388.09" y="434.48" width="1.4" height="4.8" fill="#fff"/>
<rect x="386.69" y="440.28" width="4.2" height="6.2" fill="#fff"/>
<rect x="388.19" y="447.28" width="1.2" height="0.8" fill="#fff"/>
<rect x="393.98" y="434.48" width="1.4" height="4.8" fill="#fff"/>
<rect x="392.58" y="440.28" width="4.2" height="6.2" fill="#fff"/>
<rect x="394.08" y="447.28" width="1.2" height="0.8" fill="#fff"/>
<rect x="399.87" y="434.48" width="1.4" height="4.8" fill="#fff"/>
<rect x="398.47" y="440.28" width="4.2" height="6.2" fill="#fff"/>
<rect x="399.97" y="447.28" width="1.2" height="0.8" fill="#fff"/>
<rect x="405.76" y="434.48" width="1.4" height="4.8" fill="#fff"/>
<rect x="404.36" y="440.28" width="4.2" height="6.2" fill="#fff"/>
<rect x="405.86" y="447.28" width="1.2" height="0.8" fill="#fff"/>
<rect x="405.76" y="438.28" width="1.4" height="3" fill="#fff"/>
<rect x="411.65" y="434.48" width="1.4" height="4.8" fill="#fff"/>
<rect x="410.25" y="440.28" width="4.2" height="6.2" fill="#fff"/>
<rect x="411.75" y="447.28" width="1.2" height="0.8" fill="#fff"/>
<rect x="417.54" y="434.48" width="1.4" height="4.8" fill="#fff"/>
<rect x="416.14" y="440.28" width="4.2" height="6.2" fill="#fff"/>
<rect x="417.64" y="447.28" width="1.2" height="0.8" fill="#fff"/>
<rect x="423.43" y="434.48" width="1.4" height="4.8" fill="#fff"/>
<rect x="422.03" y="440.28" width="4.2" height="6.2" fill="#fff"/>
<rect x="423.53" y="447.28" width="1.2" height="0.8" fill="#fff"/>
<rect x="429.32" y="434.48" width="1.4" height="4.8" fill="#fff"/>
<rect x="427.92" y="440.28" width="4.2" height="6.2" fill="#fff"/>
<rect x="429.42" y="447.28" width="1.2" height="0.8" fill="#fff"/>
<rect x="435.21" y="434.48" width="1.4" height="4.8" fill="#fff"/>
<rect x="433.81" y="440.28" width="4.2" height="6.2" fill="#fff"/>
<rect x="435.31" y="447.28" width="1.2" height="0.8" fill="#fff"/>
<rect x="441.1" y="434.48" width="1.4" height="4.8" fill="#fff"/>
<rect x="439.7" y="440.28" width="4.2" height="6.2" fill="#fff"/>
<rect x="441.2" y="447.28" width="1.2" height="0.8" fill="#fff"/>
<rect x="446.99" y="434.48" width="1.4" height="4.8" fill="#fff"/>
<rect x="445.59" y="440.28" width="4.2" height="6.2" fill="#fff"/>
<rect x="447.09" y="447.28" width="1.2" height="0.8" fill="#fff"/>
<rect x="452.88" y="434.48" width="1.4" height="4.8" fill="#fff"/>
<rect x="451.48" y="440.28" width="4.2" height="6.2" fill="#fff"/>
<rect x="452.98" y="447.28" width="1.2" height="0.8" fill="#fff"/>
<rect x="458.77" y="434.48" width="1.4" height="4.8" fill="#fff"/>
<rect x="457.37" y="440.28" width="4.2" height="6.2" fill="#fff"/>
<rect x="458.87" y="447.28" width="1.2" height="0.8" fill="#fff"/>
<rect x="464.66" y="434.48" width="1.4" height="4.8" fill="#fff"/>
<rect x="463.26" y="440.28" width="4.2" height="6.2" fill="#fff"/>
<rect x="464.76" y="447.28" width="1.2" height="0.8" fill="#fff"/>
<rect x="470.55" y="434.48" width="1.4" height="4.8" fill="#fff"/>
<rect x="469.15" y="440.28" width="4.2" height="6.2" fill="#fff"/>
<rect x="470.65" y="447.28" width="1.2" height="0.8" fill="#fff"/>
<rect x="476.44" y="434.48" width="1.4" height="4.8" fill="#fff"/>
<rect x="475.04" y="440.28" width="4.2" height="6.2" fill="#fff"/>
<rect x="476.54" y="447.28" width="1.2" height="0.8" fill="#fff"/>
<rect x="482.33" y="434.48" width="1.4" height="4.8" fill="#fff"/>
<rect x="480.93" y="440.28" width="4.2" height="6.2" fill="#fff"/>
<rect x="482.43" y="447.28" width="1.2" height="0.8" fill="#fff"/>
<rect x="488.22" y="434.48" width="1.4" height="4.8" fill="#fff"/>
<rect x="486.82" y="440.28" width="4.2" height="6.2" fill="#fff"/>
<rect x="488.32" y="447.28" width="1.2" height="0.8" fill="#fff"/>
<rect x="491.8" y="440.78" width="1.4" height="5.5" fill="#fff"/>
<rect x="294" y="451.35" width="226" height="1" fill="#000"/>
<rect x="294" y="469.35" width="226" height="1" fill="#000"/>
<rect x="294" y="451.35" width="1" height="19" fill="#000"/>
<rect x="519" y="451.35" width="1" height="19" fill="#000"/>
<rect x="295" y="458.1" width="6" height="1.25" fill="#000"/>
<rect x="295" y="465.35" width="6" height="1" fill="#000"/>
<rect x="301" y="452.35" width="4" height="16" fill="#000"/>
<rect x="305" y="456.6" width="3" height="1" fill="#000"/>
<rect x="307" y="456.6" width="1" height="2.5" fill="#000"/>
<rect x="307" y="458.1" width="5" height="1" fill="#000"/>
<rect x="311" y="452.35" width="1" height="6.75" fill="#000"/>
<rect x="312" y="456.35" width="3" height="1" fill="#000"/>
<rect x="314" y="456.35" width="1" height="9.75" fill="#000"/>
<rect x="305" y="465.1" width="10" height="1" fill="#000"/>
<rect x="508" y="452.35" width="2" height="16.2" fill="#000"/>
<rect x="511" y="452.35" width="1" height="17" fill="#000"/>
<rect x="512" y="458.1" width="7" height="1" fill="#000"/>
<rect x="512" y="465.35" width="7" height="1" fill="#000"/>
<rect x="500" y="452.35" width="1" height="5.25" fill="#000"/>
<rect x="498.25" y="456.6" width="2.75" height="1" fill="#000"/>
<rect x="498.25" y="456.6" width="1" height="10.5" fill="#000"/>
<rect x="498.25" y="466.1" width="9" height="1" fill="#000"/>
<rect x="506.25" y="456.85" width="1" height="10.25" fill="#000"/>
<rect x="500" y="458.85" width="6" height="1" fill="#000"/>
<rect x="505" y="456.85" width="3" height="1" fill="#000"/>
<rect x="505" y="456.85" width="1" height="3" fill="#000"/>
<rect x="319" y="453.85" width="173.7" height="14.3" fill="#000"/>
<rect x="492.7" y="459.85" width="1.3" height="8.3" fill="#000"/>
<rect x="323.3" y="454.55" width="1.4" height="4.8" fill="#fff"/>
<rect x="321.9" y="460.35" width="4.2" height="6.2" fill="#fff"/>
<rect x="323.4" y="467.35" width="1.2" height="0.8" fill="#fff"/>
<rect x="329.19" y="454.55" width="1.4" height="4.8" fill="#fff"/>
<rect x="327.79" y="460.35" width="4.2" height="6.2" fill="#fff"/>
<rect x="329.29" y="467.35" width="1.2" height="0.8" fill="#fff"/>
<rect x="335.08" y="454.55" width="1.4" height="4.8" fill="#fff"/>
<rect x="333.68" y="460.35" width="4.2" height="6.2" fill="#fff"/>
<rect x="335.18" y="467.35" width="1.2" height="0.8" fill="#fff"/>
<rect x="340.97" y="454.55" width="1.4" height="4.8" fill="#fff"/>
<rect x="339.57" y="460.35" width="4.2" height="6.2" fill="#fff"/>
<rect x="341.07" y="467.35" width="1.2" height="0.8" fill="#fff"/>
<rect x="340.97" y="458.35" width="1.4" height="3" fill="#fff"/>
<rect x="346.86" y="454.55" width="1.4" height="4.8" fill="#fff"/>
<rect x="345.46" y="460.35" width="4.2" height="6.2" fill="#fff"/>
<rect x="346.96" y="467.35" width="1.2" height="0.8" fill="#fff"/>
<rect x="352.75" y="454.55" width="1.4" height="4.8" fill="#fff"/>
<rect x="351.35" y="460.35" width="4.2" height="6.2" fill="#fff"/>
<rect x="352.85" y="467.35" width="1.2" height="0.8" fill="#fff"/>
<rect x="352.75" y="458.35" width="1.4" height="3" fill="#fff"/>
<rect x="358.64" y="454.55" width="1.4" height="4.8" fill="#fff"/>
<rect x="357.24" y="460.35" width="4.2" height="6.2" fill="#fff"/>
<rect x="358.74" y="467.35" width="1.2" height="0.8" fill="#fff"/>
<rect x="358.64" y="458.35" width="1.4" height="3" fill="#fff"/>
<rect x="364.53" y="454.55" width="1.4" height="4.8" fill="#fff"/>
<rect x="363.13" y="460.35" width="4.2" height="6.2" fill="#fff"/>
<rect x="364.63" y="467.35" width="1.2" height="0.8" fill="#fff"/>
<rect x="370.42" y="454.55" width="1.4" height="4.8" fill="#fff"/>
<rect x="369.02" y="460.35" width="4.2" height="6.2" fill="#fff"/>
<rect x="370.52" y="467.35" width="1.2" height="0.8" fill="#fff"/>
<rect x="376.31" y="454.55" width="1.4" height="4.8" fill="#fff"/>
<rect x="374.91" y="460.35" width="4.2" height="6.2" fill="#fff"/>
<rect x="376.41" y="467.35" width="1.2" height="0.8" fill="#fff"/>
<rect x="382.2" y="454.55" width="1.4" height="4.8" fill="#fff"/>
<rect x="380.8" y="460.35" width="4.2" height="6.2" fill="#fff"/>
<rect x="382.3" y="467.35" width="1.2" height="0.8" fill="#fff"/>
<rect x="388.09" y="454.55" width="1.4" height="4.8" fill="#fff"/>
<rect x="386.69" y="460.35" width="4.2" height="6.2" fill="#fff"/>
<rect x="388.19" y="467.35" width="1.2" height="0.8" fill="#fff"/>
<rect x="393.98" y="454.55" width="1.4" height="4.8" fill="#fff"/>
<rect x="392.58" y="460.35" width="4.2" height="6.2" fill="#fff"/>
<rect x="394.08" y="467.35" width="1.2" height="0.8" fill="#fff"/>
<rect x="399.87" y="454.55" width="1.4" height="4.8" fill="#fff"/>
<rect x="398.47" y="460.35" width="4.2" height="6.2" fill="#fff"/>
<rect x="399.97" y="467.35" width="1.2" height="0.8" fill="#fff"/>
<rect x="405.76" y="454.55" width="1.4" height="4.8" fill="#fff"/>
<rect x="404.36" y="460.35" width="4.2" height="6.2" fill="#fff"/>
<rect x="405.86" y="467.35" width="1.2" height="0.8" fill="#fff"/>
<rect x="405.76" y="458.35" width="1.4" height="3" fill="#fff"/>
<rect x="411.65" y="454.55" width="1.4" height="4.8" fill="#fff"/>
<rect x="410.25" y="460.35" width="4.2" height="6.2" fill="#fff"/>
<rect x="411.75" y="467.35" width="1.2" height="0.8" fill="#fff"/>
<rect x="417.54" y="454.55" width="1.4" height="4.8" fill="#fff"/>
<rect x="416.14" y="460.35" width="4.2" height="6.2" fill="#fff"/>
<rect x="417.64" y="467.35" width="1.2" height="0.8" fill="#fff"/>
<rect x="423.43" y="454.55" width="1.4" height="4.8" fill="#fff"/>
<rect x="422.03" y="460.35" width="4.2" height="6.2" fill="#fff"/>
<rect x="423.53" y="467.35" width="1.2" height="0.8" fill="#fff"/>
<rect x="429.32" y="454.55" width="1.4" height="4.8" fill="#fff"/>
<rect x="427.92" y="460.35" width="4.2" height="6.2" fill="#fff"/>
<rect x="429.42" y="467.35" width="1.2" height="0.8" fill="#fff"/>
<rect x="435.21" y="454.55" width="1.4" height="4.8" fill="#fff"/>
<rect x="433.81" y="460.35" width="4.2" height="6.2" fill="#fff"/>
<rect x="435.31" y="467.35" width="1.2" height="0.8" fill="#fff"/>
<rect x="441.1" y="454.55" width="1.4" height="4.8" fill="#fff"/>
<rect x="439.7" y="460.35" width="4.2" height="6.2" fill="#fff"/>
<rect x="441.2" y="467.35" width="1.2" height="0.8" fill="#fff"/>
<rect x="446.99" y="454.55" width="1.4" height="4.8" fill="#fff"/>
<rect x="445.59" y="460.35" width="4.2" height="6.2" fill="#fff"/>
<rect x="447.09" y="467.35" width="1.2" height="0.8" fill="#fff"/>
<rect x="452.88" y="454.55" width="1.4" height="4.8" fill="#fff"/>
<rect x="451.48" y="460.35" width="4.2" height="6.2" fill="#fff"/>
<rect x="452.98" y="467.35" width="1.2" height="0.8" fill="#fff"/>
<rect x="458.77" y="454.55" width="1.4" height="4.8" fill="#fff"/>
<rect x="457.37" y="460.35" width="4.2" height="6.2" fill="#fff"/>
<rect x="458.87" y="467.35" width="1.2" height="0.8" fill="#fff"/>
<rect x="464.66" y="454.55" width="1.4" height="4.8" fill="#fff"/>
<rect x="463.26" y="460.35" width="4.2" height="6.2" fill="#fff"/>
<rect x="464.76" y="467.35" width="1.2" height="0.8" fill="#fff"/>
<rect x="470.55" y="454.55" width="1.4" height="4.8" fill="#fff"/>
<rect x="469.15" y="460.35" width="4.2" height="6.2" fill="#fff"/>
<rect x="470.65" y="467.35" width="1.2" height="0.8" fill="#fff"/>
<rect x="476.44" y="454.55" width="1.4" height="4.8" fill="#fff"/>
<rect x="475.04" y="460.35" width="4.2" height="6.2" fill="#fff"/>
<rect x="476.54" y="467.35" width="1.2" height="0.8" fill="#fff"/>
<rect x="482.33" y="454.55" width="1.4" height="4.8" fill="#fff"/>
<rect x="480.93" y="460.35" width="4.2" height="6.2" fill="#fff"/>
<rect x="482.43" y="467.35" width="1.2" height="0.8" fill="#fff"/>
<rect x="488.22" y="454.55" width="1.4" height="4.8" fill="#fff"/>
<rect x="486.82" y="460.35" width="4.2" height="6.2" fill="#fff"/>
<rect x="488.32" y="467.35" width="1.2" height="0.8" fill="#fff"/>
<rect x="491.8" y="460.85" width="1.4" height="5.5" fill="#fff"/>
<rect x="294" y="471.42" width="226" height="1" fill="#000"/>
<rect x="294" y="489.42" width="226" height="1" fill="#000"/>
<rect x="294" y="471.42" width="1" height="19" fill="#000"/>
<rect x="519" y="471.42" width="1" height="19" fill="#000"/>
<rect x="295" y="478.17" width="6" height="1.25" fill="#000"/>
<rect x="295" y="485.42" width="6" height="1" fill="#000"/>
<rect x="301" y="472.42" width="4" height="16" fill="#000"/>
<rect x="305" y="476.67" width="3" height="1" fill="#000"/>
<rect x="307" y="476.67" width="1" height="2.5" fill="#000"/>
<rect x="307" y="478.17" width="5" height="1" fill="#000"/>
<rect x="311" y="472.42" width="1" height="6.75" fill="#000"/>
<rect x="312" y="476.42" width="3" height="1" fill="#000"/>
<rect x="314" y="476.42" width="1" height="9.75" fill="#000"/>
<rect x="305" y="485.17" width="10" height="1" fill="#000"/>
<rect x="508" y="472.42" width="2" height="16.2" fill="#000"/>
<rect x="511" y="472.42" width="1" height="17" fill="#000"/>
<rect x="512" y="478.17" width="7" height="1" fill="#000"/>
<rect x="512" y="485.42" width="7" height="1" fill="#000"/>
<rect x="500" y="472.42" width="1" height="5.25" fill="#000"/>
<rect x="498.25" y="476.67" width="2.75" height="1" fill="#000"/>
<rect x="498.25" y="476.67" width="1" height="10.5" fill="#000"/>
<rect x="498.25" y="486.17" width="9" height="1" fill="#000"/>
<rect x="506.25" y="476.92" width="1" height="10.25" fill="#000"/>
<rect x="500" y="478.92" width="6" height="1" fill="#000"/>
<rect x="505" y="476.92" width="3" height="1" fill="#000"/>
<rect x="505" y="476.92" width="1" height="3" fill="#000"/>
<rect x="319" y="473.92" width="173.7" height="14.3" fill="#000"/>
<rect x="492.7" y="479.92" width="1.3" height="8.3" fill="#000"/>
<rect x="323.3" y="474.62" width="1.4" height="4.8" fill="#fff"/>
<rect x="321.9" y="480.42" width="4.2" height="6.2" fill="#fff"/>
<rect x="323.4" y="487.42" width="1.2" height="0.8" fill="#fff"/>
<rect x="329.19" y="474.62" width="1.4" height="4.8" fill="#fff"/>
<rect x="327.79" y="480.42" width="4.2" height="6.2" fill="#fff"/>
<rect x="329.29" y="487.42" width="1.2" height="0.8" fill="#fff"/>
<rect x="335.08" y="474.62" width="1.4" height="4.8" fill="#fff"/>
<rect x="333.68" y="480.42" width="4.2" height="6.2" fill="#fff"/>
<rect x="335.18" y="487.42" width="1.2" height="0.8" fill="#fff"/>
<rect x="340.97" y="474.62" width="1.4" height="4.8" fill="#fff"/>
<rect x="339.57" y="480.42" width="4.2" height="6.2" fill="#fff"/>
<rect x="341.07" y="487.42" width="1.2" height="0.8" fill="#fff"/>
<rect x="340.97" y="478.42" width="1.4" height="3" fill="#fff"/>
<rect x="346.86" y="474.62" width="1.4" height="4.8" fill="#fff"/>
<rect x="345.46" y="480.42" width="4.2" height="6.2" fill="#fff"/>
<rect x="346.96" y="487.42" width="1.2" height="0.8" fill="#fff"/>
<rect x="352.75" y="474.62" width="1.4" height="4.8" fill="#fff"/>
<rect x="351.35" y="480.42" width="4.2" height="6.2" fill="#fff"/>
<rect x="352.85" y="487.42" width="1.2" height="0.8" fill="#fff"/>
<rect x="352.75" y="478.42" width="1.4" height="3" fill="#fff"/>
<rect x="358.64" y="474.62" width="1.4" height="4.8" fill="#fff"/>
<rect x="357.24" y="480.42" width="4.2" height="6.2" fill="#fff"/>
<rect x="358.74" y="487.42" width="1.2" height="0.8" fill="#fff"/>
<rect x="358.64" y="478.42" width="1.4" height="3" fill="#fff"/>
<rect x="364.53" y="474.62" width="1.4" height="4.8" fill="#fff"/>
<rect x="363.13" y="480.42" width="4.2" height="6.2" fill="#fff"/>
<rect x="364.63" y="487.42" width="1.2" height="0.8" fill="#fff"/>
<rect x="370.42" y="474.62" width="1.4" height="4.8" fill="#fff"/>
<rect x="369.02" y="480.42" width="4.2" height="6.2" fill="#fff"/>
<rect x="370.52" y="487.42" width="1.2" height="0.8" fill="#fff"/>
<rect x="376.31" y="474.62" width="1.4" height="4.8" fill="#fff"/>
<rect x="374.91" y="480.42" width="4.2" height="6.2" fill="#fff"/>
<rect x="376.41" y="487.42" width="1.2" height="0.8" fill="#fff"/>
<rect x="382.2" y="474.62" width="1.4" height="4.8" fill="#fff"/>
<rect x="380.8" y="480.42" width="4.2" height="6.2" fill="#fff"/>
<rect x="382.3" y="487.42" width="1.2" height="0.8" fill="#fff"/>
<rect x="388.09" y="474.62" width="1.4" height="4.8" fill="#fff"/>
<rect x="386.69" y="480.42" width="4.2" height="6.2" fill="#fff"/>
<rect x="388.19" y="487.42" width="1.2" height="0.8" fill="#fff"/>
<rect x="393.98" y="474.62" width="1.4" height="4.8" fill="#fff"/>
<rect x="392.58" y="480.42" width="4.2" height="6.2" fill="#fff"/>
<rect x="394.08" y="487.42" width="1.2" height="0.8" fill="#fff"/>
<rect x="399.87" y="474.62" width="1.4" height="4.8" fill="#fff"/>
<rect x="398.47" y="480.42" width="4.2" height="6.2" fill="#fff"/>
<rect x="399.97" y="487.42" width="1.2" height="0.8" fill="#fff"/>
<rect x="405.76" y="474.62" width="1.4" height="4.8" fill="#fff"/>
<rect x="404.36" y="480.42" width="4.2" height="6.2" fill="#fff"/>
<rect x="405.86" y="487.42" width="1.2" height="0.8" fill="#fff"/>
<rect x="405.76" y="478.42" width="1.4" height="3" fill="#fff"/>
<rect x="411.65" y="474.62" width="1.4" height="4.8" fill="#fff"/>
<rect x="410.25" y="480.42" width="4.2" height="6.2" fill="#fff"/>
<rect x="411.75" y="487.42" width="1.2" height="0.8" fill="#fff"/>
<rect x="417.54" y="474.62" width="1.4" height="4.8" fill="#fff"/>
<rect x="416.14" y="480.42" width="4.2" height="6.2" fill="#fff"/>
<rect x="417.64" y="487.42" width="1.2" height="0.8" fill="#fff"/>
<rect x="423.43" y="474.62" width="1.4" height="4.8" fill="#fff"/>
<rect x="422.03" y="480.42" width="4.2" height="6.2" fill="#fff"/>
<rect x="423.53" y="487.42" width="1.2" height="0.8" fill="#fff"/>
<rect x="429.32" y="474.62" width="1.4" height="4.8" fill="#fff"/>
<rect x="427.92" y="480.42" width="4.2" height="6.2" fill="#fff"/>
<rect x="429.42" y="487.42" width="1.2" height="0.8" fill="#fff"/>
<rect x="435.21" y="474.62" width="1.4" height="4.8" fill="#fff"/>
<rect x="433.81" y="480.42" width="4.2" height="6.2" fill="#fff"/>
<rect x="435.31" y="487.42" width="1.2" height="0.8" fill="#fff"/>
<rect x="441.1" y="474.62" width="1.4" height="4.8" fill="#fff"/>
<rect x="439.7" y="480.42" width="4.2" height="6.2" fill="#fff"/>
<rect x="441.2" y="487.42" width="1.2" height="0.8" fill="#fff"/>
<rect x="446.99" y="474.62" width="1.4" height="4.8" fill="#fff"/>
<rect x="445.59" y="480.42" width="4.2" height="6.2" fill="#fff"/>
<rect x="447.09" y="487.42" width="1.2" height="0.8" fill="#fff"/>
<rect x="452.88" y="474.62" width="1.4" height="4.8" fill="#fff"/>
<rect x="451.48" y="480.42" width="4.2" height="6.2" fill="#fff"/>
<rect x="452.98" y="487.42" width="1.2" height="0.8" fill="#fff"/>
<rect x="458.77" y="474.62" width="1.4" height="4.8" fill="#fff"/>
<rect x="457.37" y="480.42" width="4.2" height="6.2" fill="#fff"/>
<rect x="458.87" y="487.42" width="1.2" height="0.8" fill="#fff"/>
<rect x="464.66" y="474.62" width="1.4" height="4.8" fill="#fff"/>
<rect x="463.26" y="480.42" width="4.2" height="6.2" fill="#fff"/>
<rect x="464.76" y="487.42" width="1.2" height="0.8" fill="#fff"/>
<rect x="470.55" y="474.62" width="1.4" height="4.8" fill="#fff"/>
<rect x="469.15" y="480.42" width="4.2" height="6.2" fill="#fff"/>
<rect x="470.65" y="487.42" width="1.2" height="0.8" fill="#fff"/>
<rect x="476.44" y="474.62" width="1.4" height="4.8" fill="#fff"/>
<rect x="475.04" y="480.42" width="4.2" height="6.2" fill="#fff"/>
<rect x="476.54" y="487.42" width="1.2" height="0.8" fill="#fff"/>
<rect x="482.33" y="474.62" width="1.4" height="4.8" fill="#fff"/>
<rect x="480.93" y="480.42" width="4.2" height="6.2" fill="#fff"/>
<rect x="482.43" y="487.42" width="1.2" height="0.8" fill="#fff"/>
<rect x="488.22" y="474.62" width="1.4" height="4.8" fill="#fff"/>
<rect x="486.82" y="480.42" width="4.2" height="6.2" fill="#fff"/>
<rect x="488.32" y="487.42" width="1.2" height="0.8" fill="#fff"/>
<rect x="491.8" y="480.92" width="1.4" height="5.5" fill="#fff"/>
<rect x="294" y="491.49" width="226" height="1" fill="#000"/>
<rect x="294" y="509.49" width="226" height="1" fill="#000"/>
<rect x="294" y="491.49" width="1" height="19" fill="#000"/>
<rect x="519" y="491.49" width="1" height="19" fill="#000"/>
<rect x="295" y="498.24" width="6" height="1.25" fill="#000"/>
<rect x="295" y="505.49" width="6" height="1" fill="#000"/>
<rect x="301" y="492.49" width="4" height="16" fill="#000"/>
<rect x="305" y="496.74" width="3" height="1" fill="#000"/>
<rect x="307" y="496.74" width="1" height="2.5" fill="#000"/>
<rect x="307" y="498.24" width="5" height="1" fill="#000"/>
<rect x="311" y="492.49" width="1" height="6.75" fill="#000"/>
<rect x="312" y="496.49" width="3" height="1" fill="#000"/>
<rect x="314" y="496.49" width="1" height="9.75" fill="#000"/>
<rect x="305" y="505.24" width="10" height="1" fill="#000"/>
<rect x="508" y="492.49" width="2" height="16.2" fill="#000"/>
<rect x="511" y="492.49" width="1" height="17" fill="#000"/>
<rect x="512" y="498.24" width="7" height="1" fill="#000"/>
<rect x="512" y="505.49" width="7" height="1" fill="#000"/>
<rect x="500" y="492.49" width="1" height="5.25" fill="#000"/>
<rect x="498.25" y="496.74" width="2.75" height="1" fill="#000"/>
<rect x="498.25" y="496.74" width="1" height="10.5" fill="#000"/>
<rect x="498.25" y="506.24" width="9" height="1" fill="#000"/>
<rect x="506.25" y="496.99" width="1" height="10.25" fill="#000"/>
<rect x="500" y="498.99" width="6" height="1" fill="#000"/>
<rect x="505" y="496.99" width="3" height="1" fill="#000"/>
<rect x="505" y="496.99" width="1" height="3" fill="#000"/>
<rect x="319" y="493.99" width="173.7" height="14.3" fill="#000"/>
<rect x="492.7" y="499.99" width="1.3" height="8.3" fill="#000"/>
<rect x="323.3" y="494.69" width="1.4" height="4.8" fill="#fff"/>
<rect x="321.9" y="500.49" width="4.2" height="6.2" fill="#fff"/>
<rect x="323.4" y="507.49" width="1.2" height="0.8" fill="#fff"/>
<rect x="329.19" y="494.69" width="1.4" height="4.8" fill="#fff"/>
<rect x="327.79" y="500.49" width="4.2" height="6.2" fill="#fff"/>
<rect x="329.29" y="507.49" width="1.2" height="0.8" fill="#fff"/>
<rect x="335.08" y="494.69" width="1.4" height="4.8" fill="#fff"/>
<rect x="333.68" y="500.49" width="4.2" height="6.2" fill="#fff"/>
<rect x="335.18" y="507.49" width="1.2" height="0.8" fill="#fff"/>
<rect x="340.97" y="494.69" width="1.4" height="4.8" fill="#fff"/>
<rect x="339.57" y="500.49" width="4.2" height="6.2" fill="#fff"/>
<rect x="341.07" y="507.49" width="1.2" height="0.8" fill="#fff"/>
<rect x="340.97" y="498.49" width="1.4" height="3" fill="#fff"/>
<rect x="346.86" y="494.69" width="1.4" height="4.8" fill="#fff"/>
<rect x="345.46" y="500.49" width="4.2" height="6.2" fill="#fff"/>
<rect x="346.96" y="507.49" width="1.2" height="0.8" fill="#fff"/>
<rect x="352.75" y="494.69" width="1.4" height="4.8" fill="#fff"/>
<rect x="351.35" y="500.49" width="4.2" height="6.2" fill="#fff"/>
<rect x="352.85" y="507.49" width="1.2" height="0.8" fill="#fff"/>
<rect x="352.75" y="498.49" width="1.4" height="3" fill="#fff"/>
<rect x="358.64" y="494.69" width="1.4" height="4.8" fill="#fff"/>
<rect x="357.24" y="500.49" width="4.2" height="6.2" fill="#fff"/>
<rect x="358.74" y="507.49" width="1.2" height="0.8" fill="#fff"/>
<rect x="358.64" y="498.49" width="1.4" height="3" fill="#fff"/>
<rect x="364.53" y="494.69" width="1.4" height="4.8" fill="#fff"/>
<rect x="363.13" y="500.49" width="4.2" height="6.2" fill="#fff"/>
<rect x="364.63" y="507.49" width="1.2" height="0.8" fill="#fff"/>
<rect x="370.42" y="494.69" width="1.4" height="4.8" fill="#fff"/>
<rect x="369.02" y="500.49" width="4.2" height="6.2" fill="#fff"/>
<rect x="370.52" y="507.49" width="1.2" height="0.8" fill="#fff"/>
<rect x="376.31" y="494.69" width="1.4" height="4.8" fill="#fff"/>
<rect x="374.91" y="500.49" width="4.2" height="6.2" fill="#fff"/>
<rect x="376.41" y="507.49" width="1.2" height="0.8" fill="#fff"/>
<rect x="382.2" y="494.69" width="1.4" height="4.8" fill="#fff"/>
<rect x="380.8" y="500.49" width="4.2" height="6.2" fill="#fff"/>
<rect x="382.3" y="507.49" width="1.2" height="0.8" fill="#fff"/>
<rect x="388.09" y="494.69" width="1.4" height="4.8" fill="#fff"/>
<rect x="386.69" y="500.49" width="4.2" height="6.2" fill="#fff"/>
<rect x="388.19" y="507.49" width="1.2" height="0.8" fill="#fff"/>
<rect x="393.98" y="494.69" width="1.4" height="4.8" fill="#fff"/>
<rect x="392.58" y="500.49" width="4.2" height="6.2" fill="#fff"/>
<rect x="394.08" y="507.49" width="1.2" height="0.8" fill="#fff"/>
<rect x="399.87" y="494.69" width="1.4" height="4.8" fill="#fff"/>
<rect x="398.47" y="500.49" width="4.2" height="6.2" fill="#fff"/>
<rect x="399.97" y="507.49" width="1.2" height="0.8" fill="#fff"/>
<rect x="405.76" y="494.69" width="1.4" height="4.8" fill="#fff"/>
<rect x="404.36" y="500.49" width="4.2" height="6.2" fill="#fff"/>
<rect x="405.86" y="507.49" width="1.2" height="0.8" fill="#fff"/>
<rect x="405.76" y="498.49" width="1.4" height="3" fill="#fff"/>
<rect x="411.65" y="494.69" width="1.4" height="4.8" fill="#fff"/>
<rect x="410.25" y="500.49" width="4.2" height="6.2" fill="#fff"/>
<rect x="411.75" y="507.49" width="1.2" height="0.8" fill="#fff"/>
<rect x="417.54" y="494.69" width="1.4" height="4.8" fill="#fff"/>
<rect x="416.14" y="500.49" width="4.2" height="6.2" fill="#fff"/>
<rect x="417.64" y="507.49" width="1.2" height="0.8" fill="#fff"/>
<rect x="423.43" y="494.69" width="1.4" height="4.8" fill="#fff"/>
<rect x="422.03" y="500.49" width="4.2" height="6.2" fill="#fff"/>
<rect x="423.53" y="507.49" width="1.2" height="0.8" fill="#fff"/>
<rect x="429.32" y="494.69" width="1.4" height="4.8" fill="#fff"/>
<rect x="427.92" y="500.49" width="4.2" height="6.2" fill="#fff"/>
<rect x="429.42" y="507.49" width="1.2" height="0.8" fill="#fff"/>
<rect x="435.21" y="494.69" width="1.4" height="4.8" fill="#fff"/>
<rect x="433.81" y="500.49" width="4.2" height="6.2" fill="#fff"/>
<rect x="435.31" y="507.49" width="1.2" height="0.8" fill="#fff"/>
<rect x="441.1" y="494.69" width="1.4" height="4.8" fill="#fff"/>
<rect x="439.7" y="500.49" width="4.2" height="6.2" fill="#fff"/>
<rect x="441.2" y="507.49" width="1.2" height="0.8" fill="#fff"/>
<rect x="446.99" y="494.69" width="1.4" height="4.8" fill="#fff"/>
<rect x="445.59" y="500.49" width="4.2" height="6.2" fill="#fff"/>
<rect x="447.09" y="507.49" width="1.2" height="0.8" fill="#fff"/>
<rect x="452.88" y="494.69" width="1.4" height="4.8" fill="#fff"/>
<rect x="451.48" y="500.49" width="4.2" height="6.2" fill="#fff"/>
<rect x="452.98" y="507.49" width="1.2" height="0.8" fill="#fff"/>
<rect x="458.77" y="494.69" width="1.4" height="4.8" fill="#fff"/>
<rect x="457.37" y="500.49" width="4.2" height="6.2" fill="#fff"/>
<rect x="458.87" y="507.49" width="1.2" height="0.8" fill="#fff"/>
<rect x="464.66" y="494.69" width="1.4" height="4.8" fill="#fff"/>
<rect x="463.26" y="500.49" width="4.2" height="6.2" fill="#fff"/>
<rect x="464.76" y="507.49" width="1.2" height="0.8" fill="#fff"/>
<rect x="470.55" y="494.69" width="1.4" height="4.8" fill="#fff"/>
<rect x="469.15" y="500.49" width="4.2" height="6.2" fill="#fff"/>
<rect x="470.65" y="507.49" width="1.2" height="0.8" fill="#fff"/>
<rect x="476.44" y="494.69" width="1.4" height="4.8" fill="#fff"/>
<rect x="475.04" y="500.49" width="4.2" height="6.2" fill="#fff"/>
<rect x="476.54" y="507.49" width="1.2" height="0.8" fill="#fff"/>
<rect x="482.33" y="494.69" width="1.4" height="4.8" fill="#fff"/>
<rect x="480.93" y="500.49" width="4.2" height="6.2" fill="#fff"/>
<rect x="482.43" y="507.49" width="1.2" height="0.8" fill="#fff"/>
<rect x="488.22" y="494.69" width="1.4" height="4.8" fill="#fff"/>
<rect x="486.82" y="500.49" width="4.2" height="6.2" fill="#fff"/>
<rect x="488.32" y="507.49" width="1.2" height="0.8" fill="#fff"/>
<rect x="491.8" y="500.99" width="1.4" height="5.5" fill="#fff"/>
<polygon points="379.3,380.4 434.8,380.4 437.3,382.9 437.3,397 434.8,399.5 379.3,399.5 376.8,397 376.8,382.9" fill="#000"/>
<polygon points="380,382.9 433.9,382.9 435.1,384.1 435.1,396.2 433.9,397.4 380,397.4 378.8,396.2 378.8,384.1" fill="#fff"/>
<path d="M 384.50,385.50 V 394.30 H 386.90 Q 388.50,394.30 388.50,392.10 Q 388.50,389.90 386.90,389.90 H 384.50 M 384.50,385.50 H 386.74 Q 388.18,385.50 388.18,387.70 Q 388.18,389.90 386.74,389.90 M 392.50,394.30 L 395.00,385.50 L 397.50,394.30 M 393.50,391.22 H 396.50 M 401.50,394.30 V 385.50 L 406.50,394.30 V 385.50 M 410.50,385.50 V 394.30 M 414.50,385.50 L 410.50,390.96 M 411.94,389.02 L 414.50,394.30 M 427.50,385.50 L 429.34,387.79 V 392.01 L 427.50,394.30 L 425.66,392.01 V 387.79 Z" fill="none" stroke="#000" stroke-width="1" stroke-linejoin="miter" stroke-linecap="square"/>
<polygon points="379.1,461 434.2,461 436.7,463.5 436.7,477.1 434.2,479.6 379.1,479.6 376.6,477.1 376.6,463.5" fill="#000"/>
<polygon points="379.95,463.75 433.3,463.75 434.5,464.95 434.5,476.8 433.3,478 379.95,478 378.75,476.8 378.75,464.95" fill="#fff"/>
<path d="M 384.50,465.50 V 474.90 H 386.90 Q 388.50,474.90 388.50,472.55 Q 388.50,470.20 386.90,470.20 H 384.50 M 384.50,465.50 H 386.74 Q 388.18,465.50 388.18,467.85 Q 388.18,470.20 386.74,470.20 M 392.50,474.90 L 395.00,465.50 L 397.50,474.90 M 393.50,471.61 H 396.50 M 402.50,474.90 V 465.50 L 407.50,474.90 V 465.50 M 411.50,465.50 V 474.90 M 415.50,465.50 L 411.50,471.33 M 412.94,469.26 L 415.50,474.90 M 428.90,474.90 V 465.50 Q 427.94,467.57 426.50,467.94" fill="none" stroke="#000" stroke-width="1" stroke-linejoin="miter" stroke-linecap="square"/>
<rect x="56.1" y="374" width="84.8" height="23.75" fill="#000"/>
<rect x="59.1" y="376.4" width="3.5" height="4.9" fill="#fff"/>
<rect x="59.1" y="391" width="3.5" height="5" fill="#fff"/>
<rect x="64.93" y="376.4" width="3.5" height="4.9" fill="#fff"/>
<rect x="64.93" y="391" width="3.5" height="5" fill="#fff"/>
<rect x="70.76" y="376.4" width="3.5" height="4.9" fill="#fff"/>
<rect x="70.76" y="391" width="3.5" height="5" fill="#fff"/>
<rect x="76.59" y="376.4" width="3.5" height="4.9" fill="#fff"/>
<rect x="76.59" y="391" width="3.5" height="5" fill="#fff"/>
<rect x="82.42" y="376.4" width="3.5" height="4.9" fill="#fff"/>
<rect x="82.42" y="391" width="3.5" height="5" fill="#fff"/>
<rect x="88.25" y="376.4" width="3.5" height="4.9" fill="#fff"/>
<rect x="88.25" y="391" width="3.5" height="5" fill="#fff"/>
<rect x="94.08" y="376.4" width="3.5" height="4.9" fill="#fff"/>
<rect x="94.08" y="391" width="3.5" height="5" fill="#fff"/>
<rect x="99.91" y="376.4" width="3.5" height="4.9" fill="#fff"/>
<rect x="99.91" y="391" width="3.5" height="5" fill="#fff"/>
<rect x="105.74" y="376.4" width="3.5" height="4.9" fill="#fff"/>
<rect x="105.74" y="391" width="3.5" height="5" fill="#fff"/>
<rect x="111.57" y="376.4" width="3.5" height="4.9" fill="#fff"/>
<rect x="111.57" y="391" width="3.5" height="5" fill="#fff"/>
<rect x="117.4" y="376.4" width="3.5" height="4.9" fill="#fff"/>
<rect x="117.4" y="391" width="3.5" height="5" fill="#fff"/>
<rect x="123.23" y="376.4" width="3.5" height="4.9" fill="#fff"/>
<rect x="123.23" y="391" width="3.5" height="5" fill="#fff"/>
<rect x="129.06" y="376.4" width="3.5" height="4.9" fill="#fff"/>
<rect x="129.06" y="391" width="3.5" height="5" fill="#fff"/>
<rect x="134.89" y="376.4" width="3.5" height="4.9" fill="#fff"/>
<rect x="134.89" y="391" width="3.5" height="5" fill="#fff"/>
<rect x="62.1" y="383.5" width="70.8" height="4.9" fill="#fff"/>
<ellipse cx="140.9" cy="385.95" rx="2.2" ry="2" fill="#fff"/>
<rect x="56.1" y="399" width="84.8" height="24.75" fill="#000"/>
<rect x="59.1" y="401.85" width="3.5" height="4.85" fill="#fff"/>
<rect x="59.1" y="416.8" width="3.5" height="5.15" fill="#fff"/>
<rect x="64.93" y="401.85" width="3.5" height="4.85" fill="#fff"/>
<rect x="64.93" y="416.8" width="3.5" height="5.15" fill="#fff"/>
<rect x="70.76" y="401.85" width="3.5" height="4.85" fill="#fff"/>
<rect x="70.76" y="416.8" width="3.5" height="5.15" fill="#fff"/>
<rect x="76.59" y="401.85" width="3.5" height="4.85" fill="#fff"/>
<rect x="76.59" y="416.8" width="3.5" height="5.15" fill="#fff"/>
<rect x="82.42" y="401.85" width="3.5" height="4.85" fill="#fff"/>
<rect x="82.42" y="416.8" width="3.5" height="5.15" fill="#fff"/>
<rect x="88.25" y="401.85" width="3.5" height="4.85" fill="#fff"/>
<rect x="88.25" y="416.8" width="3.5" height="5.15" fill="#fff"/>
<rect x="94.08" y="401.85" width="3.5" height="4.85" fill="#fff"/>
<rect x="94.08" y="416.8" width="3.5" height="5.15" fill="#fff"/>
<rect x="99.91" y="401.85" width="3.5" height="4.85" fill="#fff"/>
<rect x="99.91" y="416.8" width="3.5" height="5.15" fill="#fff"/>
<rect x="105.74" y="401.85" width="3.5" height="4.85" fill="#fff"/>
<rect x="105.74" y="416.8" width="3.5" height="5.15" fill="#fff"/>
<rect x="111.57" y="401.85" width="3.5" height="4.85" fill="#fff"/>
<rect x="111.57" y="416.8" width="3.5" height="5.15" fill="#fff"/>
<rect x="117.4" y="401.85" width="3.5" height="4.85" fill="#fff"/>
<rect x="117.4" y="416.8" width="3.5" height="5.15" fill="#fff"/>
<rect x="123.23" y="401.85" width="3.5" height="4.85" fill="#fff"/>
<rect x="123.23" y="416.8" width="3.5" height="5.15" fill="#fff"/>
<rect x="129.06" y="401.85" width="3.5" height="4.85" fill="#fff"/>
<rect x="129.06" y="416.8" width="3.5" height="5.15" fill="#fff"/>
<rect x="134.89" y="401.85" width="3.5" height="4.85" fill="#fff"/>
<rect x="134.89" y="416.8" width="3.5" height="5.15" fill="#fff"/>
<rect x="62.1" y="409.4" width="70.8" height="4.95" fill="#fff"/>
<ellipse cx="140.9" cy="411.88" rx="2.2" ry="2" fill="#fff"/>
<rect x="146.1" y="399" width="83.7" height="24.75" fill="#000"/>
<rect x="149.1" y="401.85" width="3.5" height="4.85" fill="#fff"/>
<rect x="149.1" y="416.8" width="3.5" height="5.15" fill="#fff"/>
<rect x="154.93" y="401.85" width="3.5" height="4.85" fill="#fff"/>
<rect x="154.93" y="416.8" width="3.5" height="5.15" fill="#fff"/>
<rect x="160.76" y="401.85" width="3.5" height="4.85" fill="#fff"/>
<rect x="160.76" y="416.8" width="3.5" height="5.15" fill="#fff"/>
<rect x="166.59" y="401.85" width="3.5" height="4.85" fill="#fff"/>
<rect x="166.59" y="416.8" width="3.5" height="5.15" fill="#fff"/>
<rect x="172.42" y="401.85" width="3.5" height="4.85" fill="#fff"/>
<rect x="172.42" y="416.8" width="3.5" height="5.15" fill="#fff"/>
<rect x="178.25" y="401.85" width="3.5" height="4.85" fill="#fff"/>
<rect x="178.25" y="416.8" width="3.5" height="5.15" fill="#fff"/>
<rect x="184.08" y="401.85" width="3.5" height="4.85" fill="#fff"/>
<rect x="184.08" y="416.8" width="3.5" height="5.15" fill="#fff"/>
<rect x="189.91" y="401.85" width="3.5" height="4.85" fill="#fff"/>
<rect x="189.91" y="416.8" width="3.5" height="5.15" fill="#fff"/>
<rect x="195.74" y="401.85" width="3.5" height="4.85" fill="#fff"/>
<rect x="195.74" y="416.8" width="3.5" height="5.15" fill="#fff"/>
<rect x="201.57" y="401.85" width="3.5" height="4.85" fill="#fff"/>
<rect x="201.57" y="416.8" width="3.5" height="5.15" fill="#fff"/>
<rect x="207.4" y="401.85" width="3.5" height="4.85" fill="#fff"/>
<rect x="207.4" y="416.8" width="3.5" height="5.15" fill="#fff"/>
<rect x="213.23" y="401.85" width="3.5" height="4.85" fill="#fff"/>
<rect x="213.23" y="416.8" width="3.5" height="5.15" fill="#fff"/>
<rect x="219.06" y="401.85" width="3.5" height="4.85" fill="#fff"/>
<rect x="219.06" y="416.8" width="3.5" height="5.15" fill="#fff"/>
<rect x="224.89" y="401.85" width="3.5" height="4.85" fill="#fff"/>
<rect x="224.89" y="416.8" width="3.5" height="5.15" fill="#fff"/>
<rect x="152.1" y="409.4" width="69.7" height="4.95" fill="#fff"/>
<ellipse cx="229.8" cy="411.88" rx="2.2" ry="2" fill="#fff"/>
<rect x="56.1" y="426" width="84.8" height="23.75" fill="#000"/>
<rect x="59.1" y="428.05" width="3.5" height="4.85" fill="#fff"/>
<rect x="59.1" y="443" width="3.5" height="5.15" fill="#fff"/>
<rect x="64.93" y="428.05" width="3.5" height="4.85" fill="#fff"/>
<rect x="64.93" y="443" width="3.5" height="5.15" fill="#fff"/>
<rect x="70.76" y="428.05" width="3.5" height="4.85" fill="#fff"/>
<rect x="70.76" y="443" width="3.5" height="5.15" fill="#fff"/>
<rect x="76.59" y="428.05" width="3.5" height="4.85" fill="#fff"/>
<rect x="76.59" y="443" width="3.5" height="5.15" fill="#fff"/>
<rect x="82.42" y="428.05" width="3.5" height="4.85" fill="#fff"/>
<rect x="82.42" y="443" width="3.5" height="5.15" fill="#fff"/>
<rect x="88.25" y="428.05" width="3.5" height="4.85" fill="#fff"/>
<rect x="88.25" y="443" width="3.5" height="5.15" fill="#fff"/>
<rect x="94.08" y="428.05" width="3.5" height="4.85" fill="#fff"/>
<rect x="94.08" y="443" width="3.5" height="5.15" fill="#fff"/>
<rect x="99.91" y="428.05" width="3.5" height="4.85" fill="#fff"/>
<rect x="99.91" y="443" width="3.5" height="5.15" fill="#fff"/>
<rect x="105.74" y="428.05" width="3.5" height="4.85" fill="#fff"/>
<rect x="105.74" y="443" width="3.5" height="5.15" fill="#fff"/>
<rect x="111.57" y="428.05" width="3.5" height="4.85" fill="#fff"/>
<rect x="111.57" y="443" width="3.5" height="5.15" fill="#fff"/>
<rect x="117.4" y="428.05" width="3.5" height="4.85" fill="#fff"/>
<rect x="117.4" y="443" width="3.5" height="5.15" fill="#fff"/>
<rect x="123.23" y="428.05" width="3.5" height="4.85" fill="#fff"/>
<rect x="123.23" y="443" width="3.5" height="5.15" fill="#fff"/>
<rect x="129.06" y="428.05" width="3.5" height="4.85" fill="#fff"/>
<rect x="129.06" y="443" width="3.5" height="5.15" fill="#fff"/>
<rect x="134.89" y="428.05" width="3.5" height="4.85" fill="#fff"/>
<rect x="134.89" y="443" width="3.5" height="5.15" fill="#fff"/>
<rect x="62.1" y="435.6" width="70.8" height="4.95" fill="#fff"/>
<ellipse cx="140.9" cy="438.07" rx="2.2" ry="2" fill="#fff"/>
<rect x="146.1" y="426" width="83.7" height="23.75" fill="#000"/>
<rect x="149.1" y="428.05" width="3.5" height="4.85" fill="#fff"/>
<rect x="149.1" y="443" width="3.5" height="5.15" fill="#fff"/>
<rect x="154.93" y="428.05" width="3.5" height="4.85" fill="#fff"/>
<rect x="154.93" y="443" width="3.5" height="5.15" fill="#fff"/>
<rect x="160.76" y="428.05" width="3.5" height="4.85" fill="#fff"/>
<rect x="160.76" y="443" width="3.5" height="5.15" fill="#fff"/>
<rect x="166.59" y="428.05" width="3.5" height="4.85" fill="#fff"/>
<rect x="166.59" y="443" width="3.5" height="5.15" fill="#fff"/>
<rect x="172.42" y="428.05" width="3.5" height="4.85" fill="#fff"/>
<rect x="172.42" y="443" width="3.5" height="5.15" fill="#fff"/>
<rect x="178.25" y="428.05" width="3.5" height="4.85" fill="#fff"/>
<rect x="178.25" y="443" width="3.5" height="5.15" fill="#fff"/>
<rect x="184.08" y="428.05" width="3.5" height="4.85" fill="#fff"/>
<rect x="184.08" y="443" width="3.5" height="5.15" fill="#fff"/>
<rect x="189.91" y="428.05" width="3.5" height="4.85" fill="#fff"/>
<rect x="189.91" y="443" width="3.5" height="5.15" fill="#fff"/>
<rect x="195.74" y="428.05" width="3.5" height="4.85" fill="#fff"/>
<rect x="195.74" y="443" width="3.5" height="5.15" fill="#fff"/>
<rect x="201.57" y="428.05" width="3.5" height="4.85" fill="#fff"/>
<rect x="201.57" y="443" width="3.5" height="5.15" fill="#fff"/>
<rect x="207.4" y="428.05" width="3.5" height="4.85" fill="#fff"/>
<rect x="207.4" y="443" width="3.5" height="5.15" fill="#fff"/>
<rect x="213.23" y="428.05" width="3.5" height="4.85" fill="#fff"/>
<rect x="213.23" y="443" width="3.5" height="5.15" fill="#fff"/>
<rect x="219.06" y="428.05" width="3.5" height="4.85" fill="#fff"/>
<rect x="219.06" y="443" width="3.5" height="5.15" fill="#fff"/>
<rect x="224.89" y="428.05" width="3.5" height="4.85" fill="#fff"/>
<rect x="224.89" y="443" width="3.5" height="5.15" fill="#fff"/>
<rect x="152.1" y="435.6" width="69.7" height="4.95" fill="#fff"/>
<ellipse cx="229.8" cy="438.07" rx="2.2" ry="2" fill="#fff"/>
<rect x="56.1" y="451.9" width="84.8" height="24.35" fill="#000"/>
<rect x="59.1" y="454.35" width="3.5" height="4.85" fill="#fff"/>
<rect x="59.1" y="469.3" width="3.5" height="5.15" fill="#fff"/>
<rect x="64.93" y="454.35" width="3.5" height="4.85" fill="#fff"/>
<rect x="64.93" y="469.3" width="3.5" height="5.15" fill="#fff"/>
<rect x="70.76" y="454.35" width="3.5" height="4.85" fill="#fff"/>
<rect x="70.76" y="469.3" width="3.5" height="5.15" fill="#fff"/>
<rect x="76.59" y="454.35" width="3.5" height="4.85" fill="#fff"/>
<rect x="76.59" y="469.3" width="3.5" height="5.15" fill="#fff"/>
<rect x="82.42" y="454.35" width="3.5" height="4.85" fill="#fff"/>
<rect x="82.42" y="469.3" width="3.5" height="5.15" fill="#fff"/>
<rect x="88.25" y="454.35" width="3.5" height="4.85" fill="#fff"/>
<rect x="88.25" y="469.3" width="3.5" height="5.15" fill="#fff"/>
<rect x="94.08" y="454.35" width="3.5" height="4.85" fill="#fff"/>
<rect x="94.08" y="469.3" width="3.5" height="5.15" fill="#fff"/>
<rect x="99.91" y="454.35" width="3.5" height="4.85" fill="#fff"/>
<rect x="99.91" y="469.3" width="3.5" height="5.15" fill="#fff"/>
<rect x="105.74" y="454.35" width="3.5" height="4.85" fill="#fff"/>
<rect x="105.74" y="469.3" width="3.5" height="5.15" fill="#fff"/>
<rect x="111.57" y="454.35" width="3.5" height="4.85" fill="#fff"/>
<rect x="111.57" y="469.3" width="3.5" height="5.15" fill="#fff"/>
<rect x="117.4" y="454.35" width="3.5" height="4.85" fill="#fff"/>
<rect x="117.4" y="469.3" width="3.5" height="5.15" fill="#fff"/>
<rect x="123.23" y="454.35" width="3.5" height="4.85" fill="#fff"/>
<rect x="123.23" y="469.3" width="3.5" height="5.15" fill="#fff"/>
<rect x="129.06" y="454.35" width="3.5" height="4.85" fill="#fff"/>
<rect x="129.06" y="469.3" width="3.5" height="5.15" fill="#fff"/>
<rect x="134.89" y="454.35" width="3.5" height="4.85" fill="#fff"/>
<rect x="134.89" y="469.3" width="3.5" height="5.15" fill="#fff"/>
<rect x="62.1" y="461.9" width="70.8" height="4.95" fill="#fff"/>
<ellipse cx="140.9" cy="464.38" rx="2.2" ry="2" fill="#fff"/>
<rect x="146.1" y="451.9" width="83.7" height="24.35" fill="#000"/>
<rect x="149.1" y="454.35" width="3.5" height="4.85" fill="#fff"/>
<rect x="149.1" y="469.3" width="3.5" height="5.15" fill="#fff"/>
<rect x="154.93" y="454.35" width="3.5" height="4.85" fill="#fff"/>
<rect x="154.93" y="469.3" width="3.5" height="5.15" fill="#fff"/>
<rect x="160.76" y="454.35" width="3.5" height="4.85" fill="#fff"/>
<rect x="160.76" y="469.3" width="3.5" height="5.15" fill="#fff"/>
<rect x="166.59" y="454.35" width="3.5" height="4.85" fill="#fff"/>
<rect x="166.59" y="469.3" width="3.5" height="5.15" fill="#fff"/>
<rect x="172.42" y="454.35" width="3.5" height="4.85" fill="#fff"/>
<rect x="172.42" y="469.3" width="3.5" height="5.15" fill="#fff"/>
<rect x="178.25" y="454.35" width="3.5" height="4.85" fill="#fff"/>
<rect x="178.25" y="469.3" width="3.5" height="5.15" fill="#fff"/>
<rect x="184.08" y="454.35" width="3.5" height="4.85" fill="#fff"/>
<rect x="184.08" y="469.3" width="3.5" height="5.15" fill="#fff"/>
<rect x="189.91" y="454.35" width="3.5" height="4.85" fill="#fff"/>
<rect x="189.91" y="469.3" width="3.5" height="5.15" fill="#fff"/>
<rect x="195.74" y="454.35" width="3.5" height="4.85" fill="#fff"/>
<rect x="195.74" y="469.3" width="3.5" height="5.15" fill="#fff"/>
<rect x="201.57" y="454.35" width="3.5" height="4.85" fill="#fff"/>
<rect x="201.57" y="469.3" width="3.5" height="5.15" fill="#fff"/>
<rect x="207.4" y="454.35" width="3.5" height="4.85" fill="#fff"/>
<rect x="207.4" y="469.3" width="3.5" height="5.15" fill="#fff"/>
<rect x="213.23" y="454.35" width="3.5" height="4.85" fill="#fff"/>
<rect x="213.23" y="469.3" width="3.5" height="5.15" fill="#fff"/>
<rect x="219.06" y="454.35" width="3.5" height="4.85" fill="#fff"/>
<rect x="219.06" y="469.3" width="3.5" height="5.15" fill="#fff"/>
<rect x="224.89" y="454.35" width="3.5" height="4.85" fill="#fff"/>
<rect x="224.89" y="469.3" width="3.5" height="5.15" fill="#fff"/>
<rect x="152.1" y="461.9" width="69.7" height="4.95" fill="#fff"/>
<ellipse cx="229.8" cy="464.38" rx="2.2" ry="2" fill="#fff"/>
<rect x="56.1" y="478.1" width="84.8" height="23.8" fill="#000"/>
<rect x="59.1" y="479.95" width="3.5" height="4.85" fill="#fff"/>
<rect x="59.1" y="494.9" width="3.5" height="5.15" fill="#fff"/>
<rect x="64.93" y="479.95" width="3.5" height="4.85" fill="#fff"/>
<rect x="64.93" y="494.9" width="3.5" height="5.15" fill="#fff"/>
<rect x="70.76" y="479.95" width="3.5" height="4.85" fill="#fff"/>
<rect x="70.76" y="494.9" width="3.5" height="5.15" fill="#fff"/>
<rect x="76.59" y="479.95" width="3.5" height="4.85" fill="#fff"/>
<rect x="76.59" y="494.9" width="3.5" height="5.15" fill="#fff"/>
<rect x="82.42" y="479.95" width="3.5" height="4.85" fill="#fff"/>
<rect x="82.42" y="494.9" width="3.5" height="5.15" fill="#fff"/>
<rect x="88.25" y="479.95" width="3.5" height="4.85" fill="#fff"/>
<rect x="88.25" y="494.9" width="3.5" height="5.15" fill="#fff"/>
<rect x="94.08" y="479.95" width="3.5" height="4.85" fill="#fff"/>
<rect x="94.08" y="494.9" width="3.5" height="5.15" fill="#fff"/>
<rect x="99.91" y="479.95" width="3.5" height="4.85" fill="#fff"/>
<rect x="99.91" y="494.9" width="3.5" height="5.15" fill="#fff"/>
<rect x="105.74" y="479.95" width="3.5" height="4.85" fill="#fff"/>
<rect x="105.74" y="494.9" width="3.5" height="5.15" fill="#fff"/>
<rect x="111.57" y="479.95" width="3.5" height="4.85" fill="#fff"/>
<rect x="111.57" y="494.9" width="3.5" height="5.15" fill="#fff"/>
<rect x="117.4" y="479.95" width="3.5" height="4.85" fill="#fff"/>
<rect x="117.4" y="494.9" width="3.5" height="5.15" fill="#fff"/>
<rect x="123.23" y="479.95" width="3.5" height="4.85" fill="#fff"/>
<rect x="123.23" y="494.9" width="3.5" height="5.15" fill="#fff"/>
<rect x="129.06" y="479.95" width="3.5" height="4.85" fill="#fff"/>
<rect x="129.06" y="494.9" width="3.5" height="5.15" fill="#fff"/>
<rect x="134.89" y="479.95" width="3.5" height="4.85" fill="#fff"/>
<rect x="134.89" y="494.9" width="3.5" height="5.15" fill="#fff"/>
<rect x="62.1" y="487.5" width="70.8" height="4.95" fill="#fff"/>
<ellipse cx="140.9" cy="489.98" rx="2.2" ry="2" fill="#fff"/>
<rect x="146.1" y="478.1" width="83.7" height="23.8" fill="#000"/>
<rect x="149.1" y="479.95" width="3.5" height="4.85" fill="#fff"/>
<rect x="149.1" y="494.9" width="3.5" height="5.15" fill="#fff"/>
<rect x="154.93" y="479.95" width="3.5" height="4.85" fill="#fff"/>
<rect x="154.93" y="494.9" width="3.5" height="5.15" fill="#fff"/>
<rect x="160.76" y="479.95" width="3.5" height="4.85" fill="#fff"/>
<rect x="160.76" y="494.9" width="3.5" height="5.15" fill="#fff"/>
<rect x="166.59" y="479.95" width="3.5" height="4.85" fill="#fff"/>
<rect x="166.59" y="494.9" width="3.5" height="5.15" fill="#fff"/>
<rect x="172.42" y="479.95" width="3.5" height="4.85" fill="#fff"/>
<rect x="172.42" y="494.9" width="3.5" height="5.15" fill="#fff"/>
<rect x="178.25" y="479.95" width="3.5" height="4.85" fill="#fff"/>
<rect x="178.25" y="494.9" width="3.5" height="5.15" fill="#fff"/>
<rect x="184.08" y="479.95" width="3.5" height="4.85" fill="#fff"/>
<rect x="184.08" y="494.9" width="3.5" height="5.15" fill="#fff"/>
<rect x="189.91" y="479.95" width="3.5" height="4.85" fill="#fff"/>
<rect x="189.91" y="494.9" width="3.5" height="5.15" fill="#fff"/>
<rect x="195.74" y="479.95" width="3.5" height="4.85" fill="#fff"/>
<rect x="195.74" y="494.9" width="3.5" height="5.15" fill="#fff"/>
<rect x="201.57" y="479.95" width="3.5" height="4.85" fill="#fff"/>
<rect x="201.57" y="494.9" width="3.5" height="5.15" fill="#fff"/>
<rect x="207.4" y="479.95" width="3.5" height="4.85" fill="#fff"/>
<rect x="207.4" y="494.9" width="3.5" height="5.15" fill="#fff"/>
<rect x="213.23" y="479.95" width="3.5" height="4.85" fill="#fff"/>
<rect x="213.23" y="494.9" width="3.5" height="5.15" fill="#fff"/>
<rect x="219.06" y="479.95" width="3.5" height="4.85" fill="#fff"/>
<rect x="219.06" y="494.9" width="3.5" height="5.15" fill="#fff"/>
<rect x="224.89" y="479.95" width="3.5" height="4.85" fill="#fff"/>
<rect x="224.89" y="494.9" width="3.5" height="5.15" fill="#fff"/>
<rect x="152.1" y="487.5" width="69.7" height="4.95" fill="#fff"/>
<ellipse cx="229.8" cy="489.98" rx="2.2" ry="2" fill="#fff"/>
<polygon points="83.6,376.2 113.25,376.2 114.75,377.7 114.75,393.5 113.25,395 83.6,395 82.1,393.5 82.1,377.7" fill="#000"/>
<polygon points="84.4,378.7 112.6,378.7 112.8,378.9 112.8,393 112.6,393.2 84.4,393.2 84.2,393 84.2,378.9" fill="#fff"/>
<path d="M 86.50,381.50 H 90.50 M 88.50,381.50 V 389.70 M 93.50,389.70 L 96.00,381.50 L 98.50,389.70 M 94.50,386.83 H 97.50 M 107.50,382.98 Q 106.90,381.50 105.10,381.50 Q 102.50,381.50 102.50,385.60 Q 102.50,389.70 105.10,389.70 Q 107.50,389.70 107.50,387.40 V 386.09 H 105.50" fill="none" stroke="#000" stroke-width="1" stroke-linejoin="miter" stroke-linecap="square"/>
<rect x="94.1" y="407" width="5.7" height="7" fill="#000"/>
<rect x="94.1" y="487" width="5.7" height="7" fill="#000"/>
<polygon points="92.1,412.8 105.6,412.8 107.6,414.8 107.6,486.9 105.6,488.9 92.1,488.9 90.1,486.9 90.1,414.8" fill="#000"/>
<polygon points="92.55,415 105.1,415 105.9,415.8 105.9,485 105.1,485.8 92.55,485.8 91.75,485 91.75,415.8" fill="#fff"/>
<rect x="183.8" y="407" width="5.4" height="6" fill="#000"/>
<rect x="183.8" y="487" width="5.4" height="7" fill="#000"/>
<polygon points="182.1,411.8 195.3,411.8 197.3,413.8 197.3,486.9 195.3,488.9 182.1,488.9 180.1,486.9 180.1,413.8" fill="#000"/>
<polygon points="181.9,414.85 194.45,414.85 195.25,415.65 195.25,485 194.45,485.8 181.9,485.8 181.1,485 181.1,415.65" fill="#fff"/>
<path d="M 95.50,417.50 V 426.50 H 98.08 Q 99.80,426.50 99.80,424.25 Q 99.80,422.00 98.08,422.00 H 95.50 M 95.50,417.50 H 97.91 Q 99.46,417.50 99.46,419.75 Q 99.46,422.00 97.91,422.00" fill="none" stroke="#000" stroke-width="1" stroke-linejoin="miter" stroke-linecap="square"/>
<path d="M 95.50,440.50 L 97.65,431.50 L 99.80,440.50 M 96.36,437.35 H 98.94" fill="none" stroke="#000" stroke-width="1" stroke-linejoin="miter" stroke-linecap="square"/>
<path d="M 95.50,455.50 V 446.50 L 99.80,455.50 V 446.50" fill="none" stroke="#000" stroke-width="1" stroke-linejoin="miter" stroke-linecap="square"/>
<path d="M 95.50,460.50 V 469.50 M 99.80,460.50 L 95.50,466.08 M 97.05,464.10 L 99.80,469.50" fill="none" stroke="#000" stroke-width="1" stroke-linejoin="miter" stroke-linecap="square"/>
<path d="M 97.65,475.50 L 99.63,477.84 V 482.16 L 97.65,484.50 L 95.67,482.16 V 477.84 Z" fill="none" stroke="#000" stroke-width="1" stroke-linejoin="miter" stroke-linecap="square"/>
<path d="M 185.50,417.50 V 426.50 H 188.02 Q 189.70,426.50 189.70,424.25 Q 189.70,422.00 188.02,422.00 H 185.50 M 185.50,417.50 H 187.85 Q 189.36,417.50 189.36,419.75 Q 189.36,422.00 187.85,422.00" fill="none" stroke="#000" stroke-width="1" stroke-linejoin="miter" stroke-linecap="square"/>
<path d="M 185.50,441.50 L 187.60,432.50 L 189.70,441.50 M 186.34,438.35 H 188.86" fill="none" stroke="#000" stroke-width="1" stroke-linejoin="miter" stroke-linecap="square"/>
<path d="M 185.50,455.50 V 446.50 L 189.70,455.50 V 446.50" fill="none" stroke="#000" stroke-width="1" stroke-linejoin="miter" stroke-linecap="square"/>
<path d="M 185.50,461.50 V 470.50 M 189.70,461.50 L 185.50,467.08 M 187.01,465.10 L 189.70,470.50" fill="none" stroke="#000" stroke-width="1" stroke-linejoin="miter" stroke-linecap="square"/>
<path d="M 187.90,484.50 V 475.50 Q 186.94,477.48 185.50,477.84" fill="none" stroke="#000" stroke-width="1" stroke-linejoin="miter" stroke-linecap="square"/>
<rect x="118.8" y="441.8" width="50" height="18" fill="#fff"/>
<rect x="119.6" y="442.5" width="48.4" height="16.6" fill="#000"/>
<rect x="120.8" y="443.7" width="46" height="14.2" fill="#fff"/>
<path d="M 127.45,446.92 Q 126.86,445.55 125.10,445.55 Q 122.55,445.55 122.55,449.35 Q 122.55,453.15 125.10,453.15 Q 126.86,453.15 127.45,451.78 M 131.55,453.15 L 134.00,445.55 L 136.45,453.15 M 132.53,450.49 H 135.47 M 146.45,446.92 Q 145.86,445.55 144.10,445.55 Q 141.55,445.55 141.55,449.35 Q 141.55,453.15 144.10,453.15 Q 145.86,453.15 146.45,451.78 M 150.55,445.55 V 453.15 M 155.45,445.55 V 453.15 M 150.55,449.35 H 155.45 M 163.45,445.55 H 159.55 V 453.15 H 163.45 M 159.55,449.35 H 162.67" fill="none" stroke="#000" stroke-width="1.1" stroke-linejoin="miter" stroke-linecap="square"/>
<rect x="545" y="378.8" width="24" height="1" fill="#000"/>
<rect x="545" y="489" width="24" height="1" fill="#000"/>
<rect x="545" y="378.8" width="1" height="111.2" fill="#000"/>
<rect x="568" y="378.8" width="1" height="111.2" fill="#000"/>
<rect x="561" y="378.8" width="1" height="111.2" fill="#000"/>
<rect x="548" y="385" width="7" height="1" fill="#000"/>
<rect x="548" y="390.5" width="7" height="1" fill="#000"/>
<rect x="548" y="385" width="1" height="6.5" fill="#000"/>
<rect x="554" y="385" width="1" height="6.5" fill="#000"/>
<rect x="548" y="394.4" width="7" height="1" fill="#000"/>
<rect x="548" y="399.9" width="7" height="1" fill="#000"/>
<rect x="548" y="394.4" width="1" height="6.5" fill="#000"/>
<rect x="554" y="394.4" width="1" height="6.5" fill="#000"/>
<rect x="548" y="403.8" width="7" height="1" fill="#000"/>
<rect x="548" y="409.3" width="7" height="1" fill="#000"/>
<rect x="548" y="403.8" width="1" height="6.5" fill="#000"/>
<rect x="554" y="403.8" width="1" height="6.5" fill="#000"/>
<rect x="548" y="413.2" width="7" height="1" fill="#000"/>
<rect x="548" y="418.7" width="7" height="1" fill="#000"/>
<rect x="548" y="413.2" width="1" height="6.5" fill="#000"/>
<rect x="554" y="413.2" width="1" height="6.5" fill="#000"/>
<rect x="548" y="422.6" width="7" height="1" fill="#000"/>
<rect x="548" y="428.1" width="7" height="1" fill="#000"/>
<rect x="548" y="422.6" width="1" height="6.5" fill="#000"/>
<rect x="554" y="422.6" width="1" height="6.5" fill="#000"/>
<rect x="548" y="432" width="7" height="1" fill="#000"/>
<rect x="548" y="437.5" width="7" height="1" fill="#000"/>
<rect x="548" y="432" width="1" height="6.5" fill="#000"/>
<rect x="554" y="432" width="1" height="6.5" fill="#000"/>
<rect x="548" y="441.4" width="7" height="1" fill="#000"/>
<rect x="548" y="446.9" width="7" height="1" fill="#000"/>
<rect x="548" y="441.4" width="1" height="6.5" fill="#000"/>
<rect x="554" y="441.4" width="1" height="6.5" fill="#000"/>
<rect x="548" y="450.8" width="7" height="1" fill="#000"/>
<rect x="548" y="456.3" width="7" height="1" fill="#000"/>
<rect x="548" y="450.8" width="1" height="6.5" fill="#000"/>
<rect x="554" y="450.8" width="1" height="6.5" fill="#000"/>
<rect x="548" y="460.2" width="7" height="1" fill="#000"/>
<rect x="548" y="465.7" width="7" height="1" fill="#000"/>
<rect x="548" y="460.2" width="1" height="6.5" fill="#000"/>
<rect x="554" y="460.2" width="1" height="6.5" fill="#000"/>
<rect x="548" y="469.6" width="7" height="1" fill="#000"/>
<rect x="548" y="475.1" width="7" height="1" fill="#000"/>
<rect x="548" y="469.6" width="1" height="6.5" fill="#000"/>
<rect x="554" y="469.6" width="1" height="6.5" fill="#000"/>
<rect x="548" y="479" width="7" height="1" fill="#000"/>
<rect x="548" y="484.5" width="7" height="1" fill="#000"/>
<rect x="548" y="479" width="1" height="6.5" fill="#000"/>
<rect x="554" y="479" width="1" height="6.5" fill="#000"/>
<rect x="556" y="381.2" width="2.8" height="6.4" fill="#000"/>
<rect x="562" y="381.4" width="4" height="6" fill="#000"/>
<rect x="566" y="382.7" width="0.8" height="3.1" fill="#000"/>
<rect x="556" y="390.38" width="2.8" height="6.4" fill="#000"/>
<rect x="562" y="390.58" width="4" height="6" fill="#000"/>
<rect x="566" y="391.88" width="0.8" height="3.1" fill="#000"/>
<rect x="556" y="399.56" width="2.8" height="6.4" fill="#000"/>
<rect x="562" y="399.76" width="4" height="6" fill="#000"/>
<rect x="566" y="401.06" width="0.8" height="3.1" fill="#000"/>
<rect x="556" y="408.74" width="2.8" height="6.4" fill="#000"/>
<rect x="562" y="408.94" width="4" height="6" fill="#000"/>
<rect x="566" y="410.24" width="0.8" height="3.1" fill="#000"/>
<rect x="556" y="417.92" width="2.8" height="6.4" fill="#000"/>
<rect x="562" y="418.12" width="4" height="6" fill="#000"/>
<rect x="566" y="419.42" width="0.8" height="3.1" fill="#000"/>
<rect x="556" y="427.1" width="2.8" height="6.4" fill="#000"/>
<rect x="562" y="427.3" width="4" height="6" fill="#000"/>
<rect x="566" y="428.6" width="0.8" height="3.1" fill="#000"/>
<rect x="556" y="436.28" width="2.8" height="6.4" fill="#000"/>
<rect x="562" y="436.48" width="4" height="6" fill="#000"/>
<rect x="566" y="437.78" width="0.8" height="3.1" fill="#000"/>
<rect x="556" y="445.46" width="2.8" height="6.4" fill="#000"/>
<rect x="562" y="445.66" width="4" height="6" fill="#000"/>
<rect x="566" y="446.96" width="0.8" height="3.1" fill="#000"/>
<rect x="556" y="454.64" width="2.8" height="6.4" fill="#000"/>
<rect x="562" y="454.84" width="4" height="6" fill="#000"/>
<rect x="566" y="456.14" width="0.8" height="3.1" fill="#000"/>
<rect x="556" y="463.82" width="2.8" height="6.4" fill="#000"/>
<rect x="562" y="464.02" width="4" height="6" fill="#000"/>
<rect x="566" y="465.32" width="0.8" height="3.1" fill="#000"/>
<rect x="556" y="473" width="2.8" height="6.4" fill="#000"/>
<rect x="562" y="473.2" width="4" height="6" fill="#000"/>
<rect x="566" y="474.5" width="0.8" height="3.1" fill="#000"/>
<rect x="556" y="482.18" width="2.8" height="6.4" fill="#000"/>
<rect x="562" y="482.38" width="4" height="6" fill="#000"/>
<rect x="566" y="483.68" width="0.8" height="3.1" fill="#000"/>
<path d="M604.5,380.8 L627,380.8 L629.1,385.6 L627.4,389.9 L628.3,398 L627.4,402.9 L627.9,411.5 L629.1,414.4 L627.4,418.3 L623.8,419.8 L607,419.8 L604.4,418.3 L602.7,414.4 L604.4,406.7 L603.1,400 L604.4,393.75 L602.7,387.5 L603.1,384.6 Z" fill="none" stroke="#000" stroke-width="1.1"/>
<polygon points="634,438 638,438 638,489 634,489 634,486 630.7,486 630.7,481.8 607,481.8 607,475.8 604,475.8 604,450.9 607,450.9 607,444.8 630.7,444.8 630.7,440 634,440" fill="#000"/>
<rect x="604.6" y="462.1" width="2" height="2.9" fill="#fff"/>
<rect x="600" y="452.9" width="4.4" height="1" fill="#000"/>
<rect x="600" y="460.2" width="4.4" height="1" fill="#000"/>
<rect x="600" y="452.9" width="1" height="8.3" fill="#000"/>
<rect x="603.4" y="452.9" width="1" height="8.3" fill="#000"/>
<rect x="600" y="465.3" width="4.4" height="1" fill="#000"/>
<rect x="600" y="471.8" width="4.4" height="1" fill="#000"/>
<rect x="600" y="465.3" width="1" height="7.5" fill="#000"/>
<rect x="603.4" y="465.3" width="1" height="7.5" fill="#000"/>
</svg></body></html>
